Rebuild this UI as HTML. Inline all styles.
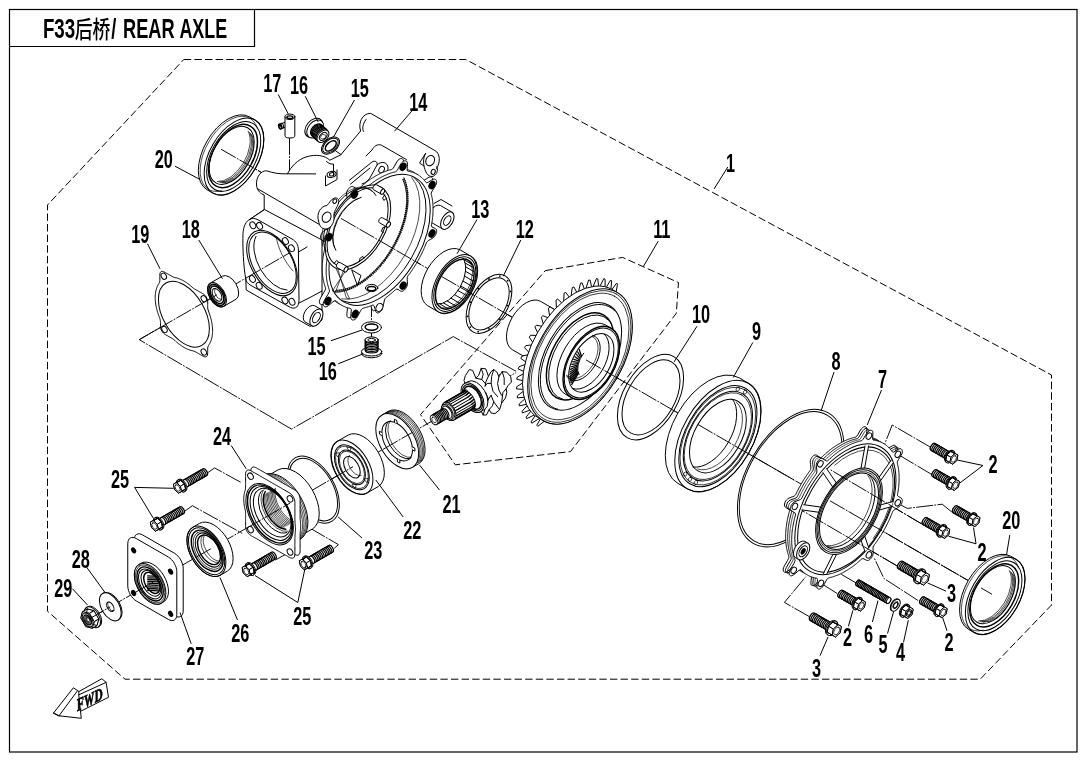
<!DOCTYPE html>
<html lang="zh">
<head>
<meta charset="utf-8">
<title>F33后桥/ REAR AXLE</title>
<style>
html,body{margin:0;padding:0;background:#fff;}
body{width:1090px;height:760px;overflow:hidden;font-family:"Liberation Sans","Noto Sans CJK SC",sans-serif;}
svg{display:block;position:absolute;left:0;top:0;filter:grayscale(1);}
.l{fill:none;stroke:#000;stroke-width:1.0;stroke-linecap:round;stroke-linejoin:round;}
.t{fill:none;stroke:#000;stroke-width:0.7;stroke-linecap:round;stroke-linejoin:round;}
.h{fill:none;stroke:#000;stroke-width:1.45;stroke-linecap:round;stroke-linejoin:round;}
.w{fill:#fff;stroke:#000;stroke-width:1.0;stroke-linecap:round;stroke-linejoin:round;}
.wt{fill:#fff;stroke:#000;stroke-width:0.8;stroke-linejoin:round;}
.k{fill:#000;stroke:none;}
.fw{font-family:"Liberation Serif",serif;font-weight:bold;font-style:italic;font-size:17px;fill:#000;stroke:#000;stroke-width:0.7;}
.wh{fill:#fff;stroke:#000;stroke-width:1.25;}
.f{fill:#fff;stroke:none;}
.t2{fill:none;stroke:#000;stroke-width:0.95;}
.wm{fill:#fff;stroke:#000;stroke-width:1.0;stroke-linejoin:miter;}
.ld{fill:none;stroke:#000;stroke-width:1;}
.th{fill:none;stroke:#000;stroke-width:1.3;}
.d{fill:none;stroke:#000;stroke-width:1;stroke-dasharray:7.4 3.2;}
.c{fill:none;stroke:#000;stroke-width:0.95;stroke-dasharray:17 1.3 1.8 1.3;}
.n{font-family:"Liberation Sans",sans-serif;font-weight:bold;font-size:25.1px;fill:#000;}
.ti{font-family:"Liberation Sans","Noto Sans CJK SC",sans-serif;font-weight:bold;fill:#000;}
</style>
</head>
<body>
<svg width="1090" height="760" viewBox="0 0 1090 760">
<rect class="l" x="9.5" y="9.5" width="1067.5" height="742.5" style="stroke-width:1.2;stroke-linejoin:miter"/>
<path class="l" d="M9.5 46.5H254.5V9.5" style="stroke-width:1.2;stroke-linejoin:miter"/>
<g>
<text class="ti" font-size="27.4" transform="translate(42.9 38.4) scale(0.685 1)">F33</text>
<text class="ti" font-size="23.6" style="font-weight:500" transform="translate(74.8 38.0) scale(0.755 1)">后桥</text>
<text class="ti" font-size="27.4" transform="translate(111.2 38.4) scale(0.66 1)">/</text>
<text class="ti" font-size="27.4" transform="translate(123.0 38.4) scale(0.665 1)">REAR</text>
<text class="ti" font-size="27.4" transform="translate(179.4 38.4) scale(0.655 1)">AXLE</text>
</g>
<path class="d" d="M183.8 59.5L465.8 59.5L1051.5 375L1051.5 605L980.2 679.2L125 679.2L47.5 611.2L47.5 205Z"/>
<path class="d" d="M545.3 270.6L622.6 257.4L678.5 282.6L676.3 313.3L570.5 451.6L455.3 464.8L420.5 414.6Z"/>
<g id="p_10_axes">
<path class="c" d="M221 149.2L992 594.3"/>
<path class="c" d="M89 619.1L516.1 372.5"/>
<path class="c" d="M516.1 371.3L453.3 336.6L291.5 429.1L139.3 339.7L246 278"/>
<path class="c" d="M931 447.5L892.2 425L884.8 443.8"/>
<path class="c" d="M932.1 474.7L897.8 454.3"/>
<path class="c" d="M951.7 511.9L942.2 504.2L907.3 508.4L899 504"/>
<path class="c" d="M921.5 523.8L820.4 463.8"/>
<path class="c" d="M897.3 566L794.9 506.4"/>
<path class="c" d="M918.2 600.6L883.9 578.4L874.2 558"/>
<path class="c" d="M837.2 593.5L820.9 583.3"/>
<path class="c" d="M809.3 616.6L784.4 602.4L805.8 576.7"/>
<path class="c" d="M856 582.9L808.4 555.3"/>
<path class="c" d="M207.5 472.9L214.6 467.9L241.3 482.6"/>
<path class="c" d="M184.9 511.1L192.4 505.7L242.1 533.3"/>
<path class="c" d="M275.3 560L290 552"/>
<path class="c" d="M334.2 548.4L338.4 544.6L294.2 519"/>
<path class="c" d="M289.5 137.9L289.5 188.5L333 164"/>
<path class="l" d="M335.6 150.8L340.8 154.5"/>
<path class="c" d="M371.5 300L371.5 338"/>
</g>
<g id="p_20_housing">
<path class="f" d="M360.6 131 C358 123 362 113.5 370.6 113.3 L435 150.6 C440.5 153.5 440.5 163 436.5 168.5 L431 175 L404 160 L381.5 145.2 C377 143.5 374 146.5 372 150 L340 190 L330 175 Z"/>
<path class="l" d="M340.8 154.8 L360.6 131 C358 123 362 113.5 370.6 113.3 L435 150.6 C440.5 153.5 440.5 163 436.5 168.5"/>
<path class="l" d="M406.5 159.6 L381.5 145.2 C377 143.5 374 146.5 372 150 L366 156"/>
<path class="l" d="M346 183 L372 162 C375 160 378 162 377 165 L371 176 C369 180 366 183 362 184 M350 184.5 L370 168 M377 165 C381 160.5 388 162 388 168 C388 172 385 176 381 178"/>
<ellipse class="l" cx="381.6" cy="169.6" rx="2.6" ry="3.4" transform="rotate(28 381.6 169.6)"/>
<path class="l" d="M366 119.5 C362.5 124 362 129.5 363.6 131.5"/>
<ellipse class="w" cx="430.2" cy="160.6" rx="4.2" ry="5.4" transform="rotate(25 430.2 160.6)"/>
<ellipse class="w" cx="433.2" cy="171.8" rx="2" ry="2.6" transform="rotate(20 433.2 171.8)"/>
<path class="l" d="M425.6 153.4 C422.6 158 423 166 426 172 C428 176.8 433 177.8 435.6 174.6 C438 171.4 437.6 168.6 436.8 166.6"/>
<path class="l" d="M425.6 153.4 L419.5 163 L424 166"/>
<path class="f" d="M266.6 170.8 C261 170.5 255.5 177 256.6 186 C257.5 191 261 194 264.2 195 L264.2 209.5 L330 246 L352 190 L341 154.6 L329.8 160.2 C325 155.5 316 153.8 306 157 C298 159.5 291 166.5 287.5 173.8 C280 174.2 273 173 266.6 170.8 Z"/>
<path class="l" d="M264.2 209.5 L264.2 195 C261 194 257.5 191 256.6 186 C255.5 177 261 170.5 266.6 170.8 C273 173 280 174.2 287.5 173.8 C291 166.5 298 159.5 306 157 C316 153.8 325 155.5 329.8 160.2 L340.8 154.8"/>
<path class="l" d="M287.5 173.8 L315.6 173.9"/>
<path class="l" d="M257.3 188.6 L322 226"/>
<path class="l" d="M264.2 209.5 L249.8 219.4"/>
<path class="l" d="M325.5 176 L325.5 186 L337 179.5 L337 170"/>
<ellipse class="w" cx="331.6" cy="174.4" rx="4.6" ry="2.9" transform="rotate(-12 331.6 174.4)"/>
<ellipse class="l" cx="331.8" cy="174.3" rx="2.4" ry="1.6" transform="rotate(-12 331.8 174.3)"/>
<path class="l" d="M326.5 161.5 C328.5 163.5 331.5 164.5 333.5 164 L333.5 176"/>
<path class="w" d="M249.8 219.4 L264.6 209.6 L322 240 L322 320 L310 326.4 L246.2 290 L245.8 279 C243.5 268 242.5 245 243 233.5 C243.5 226 246 221 249.8 219.4 Z"/>
<path class="l" d="M249.8 219.4 C252 217.8 255 218.2 258 219.8 L292 239 C296 241.2 298.4 245 298.4 250 L299 300 C299 306.5 296 309.5 290.5 307.5 L251 285.5 C247.5 283.5 246 281.5 245.8 279"/>
<path class="l" d="M299 303 L310 297.5 L322 291"/>
<path class="l" d="M298.5 252 L307 247"/>
<ellipse class="l" cx="272" cy="263" rx="35.8" ry="20.7" transform="rotate(-120 272 263)"/>
<ellipse class="l" cx="272.5" cy="262.7" rx="33.6" ry="19.4" transform="rotate(-120 272.5 262.7)"/>
<path class="l" d="M287.1 290.1A33 19.1 -120 0 1 256 236.4"/>
<path class="t" d="M276 236.5 C278 248 284 261 293 271"/>
<ellipse class="w" cx="252.8" cy="225.3" rx="3.6" ry="2.7" transform="rotate(60 252.8 225.3)"/>
<ellipse class="w" cx="259.6" cy="225.9" rx="3.6" ry="2.7" transform="rotate(60 259.6 225.9)"/>
<ellipse class="w" cx="285.4" cy="241" rx="3.6" ry="2.7" transform="rotate(60 285.4 241)"/>
<ellipse class="w" cx="291.4" cy="248.2" rx="3.6" ry="2.7" transform="rotate(60 291.4 248.2)"/>
<ellipse class="w" cx="252.4" cy="279" rx="3.6" ry="2.7" transform="rotate(60 252.4 279)"/>
<ellipse class="w" cx="259.2" cy="285.8" rx="3.6" ry="2.7" transform="rotate(60 259.2 285.8)"/>
<ellipse class="w" cx="284.9" cy="300.4" rx="3.6" ry="2.7" transform="rotate(60 284.9 300.4)"/>
<ellipse class="w" cx="292" cy="301.8" rx="3.6" ry="2.7" transform="rotate(60 292 301.8)"/>
<path class="w" d="M440 205.3A9.6 5.5 -60 0 0 430.4 221.9L442.5 228.9A9.6 5.5 -60 0 0 452.1 212.3Z"/>
<ellipse class="w" cx="447.3" cy="220.6" rx="9.6" ry="5.5" transform="rotate(-60 447.3 220.6)"/>
<ellipse class="l" cx="447.3" cy="220.6" rx="5.2" ry="3" transform="rotate(-60 447.3 220.6)"/>
<path class="l" d="M434 203.5 L441 199.5 L452 206"/>
<path class="w" d="M314.2 305.5A9.4 5.4 -60 0 0 304.8 321.7L311.7 325.7A9.4 5.4 -60 0 0 321.1 309.5Z"/>
<ellipse class="w" cx="316.4" cy="317.6" rx="9.4" ry="5.4" transform="rotate(-60 316.4 317.6)"/>
<ellipse class="l" cx="316.4" cy="317.6" rx="5.6" ry="3.2" transform="rotate(-60 316.4 317.6)"/>
<path class="w" d="M413.5 172.2L414 172.5L414.5 172.8L415 173.1L415.4 173.4L415.9 173.8L416.3 174.1L416.8 174.5L417.2 174.8L417.7 175.2L418.1 175.6L418.5 176L418.9 176.4L419.4 176.8L419.8 177.3L420.1 177.7L420.5 178.2L420.9 178.6L421.3 179.1L421.6 179.6L422 180.1L422.5 180.4L423.2 180.5L424.5 179.9L426.2 178.9L427.9 177.8L429.4 177.1L430.5 176.9L431.3 177L431.9 177.4L432.3 177.9L432.6 178.6L432.7 179.4L432.7 180.4L432.4 181.7L431.6 183.4L430.3 185.6L428.8 187.9L427.7 189.8L427.3 191L427.4 191.9L427.5 192.6L427.7 193.2L427.8 193.9L428 194.6L428.1 195.3L428.3 196.1L428.4 196.8L428.5 197.5L428.6 198.3L428.7 199L428.8 199.8L428.9 200.5L428.9 201.3L429 202L429 202.8L429.1 203.6L429.1 204.4L429.1 205.2L429.1 206L429.2 206.8L429.1 207.6L429.1 208.4L429.1 209.2L429.1 210.1L429 210.9L429 211.7L428.9 212.6L428.9 213.4L428.8 214.3L428.7 215.1L428.6 216L428.5 216.8L428.4 217.7L428.3 218.6L428.1 219.4L428 220.3L427.8 221.2L427.7 222.1L427.5 222.9L427.5 223.8L427.9 224.5L428.9 225.2L430.3 225.8L431.6 226.4L432.4 227.2L432.7 228.1L432.7 229L432.6 230L432.4 231L432 232.1L431.4 233.1L430.7 234.2L429.7 235.2L428.3 236.2L426.5 237.2L424.8 238.1L423.6 239.1L422.8 240L422.4 240.9L422 241.8L421.6 242.7L421.3 243.6L420.9 244.5L420.5 245.4L420.1 246.3L419.8 247.2L419.4 248.1L418.9 249L418.5 249.9L418.1 250.7L417.7 251.6L417.2 252.5L416.8 253.4L416.3 254.3L415.9 255.1L415.4 256L415 256.9L414.5 257.8L414 258.6L413.5 259.5L413 260.3L412.5 261.2L412 262L411.5 262.9L410.9 263.7L410.4 264.5L409.9 265.4L409.3 266.2L408.8 267L408.2 267.8L407.7 268.6L407.1 269.4L406.6 270.2L406 271L405.4 271.8L404.8 272.6L404.2 273.4L403.7 274.3L403.4 275.4L403.3 277L403.4 278.9L403.6 280.9L403.4 282.6L403.1 283.9L402.6 285.1L402 286.1L401.3 287L400.6 287.7L399.8 288.4L398.9 288.9L397.9 289.1L396.8 288.8L395.5 288.1L394.3 287.3L393.2 286.8L392.3 287L391.6 287.5L390.9 288.1L390.2 288.7L389.5 289.3L388.9 289.9L388.2 290.5L387.5 291L386.8 291.6L386.1 292.2L385.4 292.7L384.8 293.3L384.1 293.8L383.4 294.3L382.7 294.8L382 295.3L381.3 296.1L380.7 297.4L380.1 299.7L379.5 302.7L378.8 305.4L378.1 307.4L377.3 308.6L376.5 309.5L375.7 310.1L374.9 310.5L374.1 310.7L373.3 310.7L372.5 310.2L371.8 308.9L371.2 306.9L370.6 304.8L370.1 303.3L369.4 302.8L368.7 302.9L368 303.2L367.3 303.4L366.7 303.7L366 304L365.3 304.2L364.6 304.4L363.9 304.7L363.2 304.9L362.5 305.1L361.9 305.3L361.2 305.4L360.5 305.6L359.9 305.7L359.2 305.9L358.4 306.3L357.5 307.3L356.3 309.3L354.9 311.9L353.6 314.4L352.4 316L351.4 317L350.5 317.5L349.7 317.7L349 317.8L348.3 317.6L347.7 317.3L347.2 316.7L346.9 315.5L346.9 313.8L347.1 311.4L347.4 309L347.4 307.3L347.1 306.5L346.6 306.2L346 306.1L345.4 306L344.9 305.9L344.3 305.7L343.7 305.6L343.2 305.4L342.6 305.2L342.1 305L341.5 304.8L341 304.6L340.5 304.4L339.9 304.2L339.4 303.9L338.9 303.7L338.4 303.4L337.9 303.1L337.4 302.8L336.9 302.5L336.5 302.2L336 301.9L335.5 301.5L335.1 301.2L334.6 300.8L334.2 300.5L333.7 300.1L333.3 299.7L332.9 299.3L332.5 298.9L332 298.5L331.5 298.3L330.5 298.6L328.9 299.8L326.7 301.6L324.6 303.3L323 304.3L321.8 304.7L321 304.6L320.4 304.2L319.9 303.7L319.6 303.1L319.4 302.2L319.4 301.2L319.8 299.8L320.7 297.8L322.2 295.1L323.9 292.3L325.1 290.2L325.6 288.8L325.5 288L325.3 287.3L325.1 286.7L324.9 286.1L324.7 285.4L324.5 284.8L324.3 284.1L324.1 283.4L323.9 282.7L323.7 282.1L323.6 281.4L323.4 280.7L323.3 280L323.1 279.2L323 278.5L322.9 277.8L322.8 277L322.7 276.3L322.6 275.5L322.5 274.8L322.5 274L322.4 273.3L322.4 272.5L322.3 271.7L322.3 270.9L322.3 270.1L322.3 269.3L322.3 268.5L322.3 267.7L322.3 266.9L322.3 266.1L322.3 265.2L322.4 264.4L322.4 263.6L322.5 262.7L322.5 261.9L322.6 261L322.7 260.2L322.8 259.3L322.9 258.5L323 257.6L323.1 256.7L323.3 255.9L323.4 255L323.6 254.1L323.7 253.2L323.9 252.4L324.1 251.5L324.3 250.6L324.5 249.7L324.7 248.8L324.9 247.9L325.1 247L325.3 246.1L325.6 245.2L325.8 244.3L325.9 243.4L325.6 242.6L324.7 241.7L323.4 240.9L322 240L321.1 239.1L320.7 238.1L320.6 237L320.7 236L321 234.9L321.4 233.9L322 232.9L322.7 231.9L323.7 230.9L325.1 230.1L327.1 229.3L329.2 228.7L330.9 228L331.9 227.2L332.4 226.3L332.9 225.4L333.3 224.6L333.7 223.7L334.2 222.8L334.6 221.9L335.1 221L335.5 220.2L336 219.3L336.5 218.4L336.9 217.5L337.4 216.7L337.9 215.8L338.4 215L338.9 214.1L339.4 213.3L339.9 212.4L340.5 211.6L341 210.8L341.5 209.9L342.1 209.1L342.6 208.3L343.2 207.5L343.7 206.7L344.3 205.9L344.9 205.1L345.4 204.3L346 203.5L346.6 202.7L347.1 201.8L347.3 200.5L347.2 198.6L346.8 196.4L346.5 194.3L346.6 192.5L347 191.2L347.6 190.1L348.2 189.1L348.9 188.3L349.7 187.6L350.6 187L351.5 186.6L352.5 186.5L353.8 187L355.1 187.9L356.5 188.7L357.6 189.1L358.5 189L359.2 188.5L359.9 187.9L360.5 187.2L361.2 186.6L361.9 186L362.5 185.4L363.2 184.8L363.9 184.3L364.6 183.7L365.3 183.1L366 182.6L366.6 182L367.3 181.5L368 181L368.7 180.5L369.4 180L370.1 179.5L370.8 179L371.5 178.5L372.2 178.1L372.9 177.6L373.6 177.2L374.3 176.8L375 176.3L375.7 175.9L376.4 175.5L377.1 175.1L377.8 174.8L378.5 174.4L379.2 174L379.9 173.7L380.6 173.4L381.3 173L382 172.7L382.7 172.4L383.4 172.1L384.1 171.9L384.8 171.6L385.4 171.3L386.1 171.1L386.8 170.9L387.5 170.6L388.2 170.4L388.9 170.2L389.5 170L390.2 169.9L390.9 169.7L391.6 169.5L392.3 169.2L393.2 168.2L394.3 166.4L395.6 164L396.9 161.8L398 160.2L399 159.4L399.8 158.9L400.6 158.6L401.4 158.5L402 158.6L402.6 159L403.1 159.6L403.5 160.6L403.6 162.2L403.4 164.4L403.3 166.5L403.3 168L403.7 168.7L404.2 169L404.8 169.1L405.4 169.2L406 169.3L406.5 169.4L407.1 169.6L407.7 169.7L408.2 169.9L408.8 170.1L409.3 170.3L409.9 170.5L410.4 170.7L410.9 170.9L411.5 171.1L412 171.4L412.5 171.6L413 171.9Z"/>
<path class="w" d="M417.4 174.4L417.9 174.7L418.4 175L418.8 175.3L419.3 175.7L419.8 176L420.2 176.4L420.7 176.7L421.1 177.1L421.6 177.5L422 177.8L422.4 178.2L422.8 178.7L423.2 179.1L423.6 179.5L424 180L424.4 180.4L424.8 180.9L425.2 181.3L425.5 181.8L425.9 182.3L426.4 182.7L427.1 182.7L428.3 182.2L430.1 181.1L431.8 180L433.3 179.3L434.4 179.1L435.2 179.3L435.7 179.6L436.2 180.2L436.5 180.9L436.6 181.7L436.6 182.7L436.3 183.9L435.5 185.7L434.2 187.9L432.7 190.2L431.6 192L431.2 193.3L431.2 194.1L431.4 194.8L431.6 195.5L431.7 196.2L431.9 196.9L432 197.6L432.2 198.3L432.3 199L432.4 199.8L432.5 200.5L432.6 201.3L432.7 202L432.8 202.8L432.8 203.5L432.9 204.3L432.9 205.1L433 205.9L433 206.6L433 207.4L433 208.2L433.1 209L433 209.9L433 210.7L433 211.5L433 212.3L432.9 213.1L432.9 214L432.8 214.8L432.8 215.7L432.7 216.5L432.6 217.4L432.5 218.2L432.4 219.1L432.3 219.9L432.2 220.8L432 221.7L431.9 222.5L431.7 223.4L431.6 224.3L431.4 225.2L431.4 226L431.8 226.8L432.8 227.4L434.2 228L435.5 228.7L436.3 229.4L436.6 230.3L436.6 231.3L436.5 232.3L436.2 233.3L435.8 234.3L435.3 235.4L434.6 236.4L433.6 237.4L432.2 238.5L430.4 239.4L428.7 240.4L427.5 241.3L426.7 242.2L426.3 243.1L425.9 244L425.5 244.9L425.2 245.8L424.8 246.7L424.4 247.6L424 248.5L423.7 249.4L423.3 250.3L422.8 251.2L422.4 252.1L422 253L421.6 253.9L421.1 254.8L420.7 255.6L420.2 256.5L419.8 257.4L419.3 258.3L418.9 259.1L418.4 260L417.9 260.9L417.4 261.7L416.9 262.6L416.4 263.4L415.9 264.3L415.4 265.1L414.8 266L414.3 266.8L413.8 267.6L413.2 268.4L412.7 269.3L412.1 270.1L411.6 270.9L411 271.7L410.5 272.5L409.9 273.3L409.3 274.1L408.7 274.9L408.1 275.6L407.6 276.5L407.3 277.7L407.2 279.2L407.3 281.2L407.5 283.1L407.3 284.8L407 286.2L406.5 287.3L405.9 288.3L405.2 289.2L404.4 290L403.6 290.6L402.8 291.1L401.8 291.3L400.7 291.1L399.4 290.4L398.2 289.5L397.1 289.1L396.2 289.2L395.5 289.7L394.8 290.3L394.1 290.9L393.4 291.5L392.8 292.1L392.1 292.7L391.4 293.3L390.7 293.9L390 294.4L389.3 295L388.7 295.5L388 296L387.3 296.6L386.6 297.1L385.9 297.6L385.2 298.3L384.6 299.7L384 302L383.4 304.9L382.7 307.7L382 309.6L381.2 310.9L380.4 311.7L379.6 312.3L378.8 312.7L378 313L377.2 312.9L376.4 312.4L375.7 311.2L375.1 309.2L374.5 307L373.9 305.6L373.3 305.1L372.6 305.1L371.9 305.4L371.2 305.7L370.6 306L369.9 306.2L369.2 306.5L368.5 306.7L367.8 306.9L367.1 307.1L366.4 307.3L365.8 307.5L365.1 307.7L364.4 307.8L363.8 308L363.1 308.2L362.3 308.5L361.4 309.5L360.2 311.5L358.8 314.2L357.5 316.6L356.3 318.3L355.3 319.2L354.4 319.7L353.6 320L352.9 320L352.2 319.9L351.6 319.5L351.1 318.9L350.8 317.8L350.8 316L351 313.6L351.3 311.3L351.3 309.6L351 308.8L350.5 308.5L349.9 308.4L349.3 308.2L348.8 308.1L348.2 308L347.6 307.8L347.1 307.6L346.5 307.5L346 307.3L345.4 307.1L344.9 306.9L344.4 306.6L343.8 306.4L343.3 306.2L342.8 305.9L342.3 305.6L341.8 305.4L341.3 305.1L340.8 304.8L340.4 304.5L339.9 304.1L339.4 303.8L339 303.4L338.5 303.1L338.1 302.7L337.6 302.3L337.2 302L336.8 301.6L336.4 301.1L335.9 300.7L335.4 300.5L334.4 300.8L332.8 302L330.6 303.8L328.5 305.5L326.9 306.6L325.7 306.9L324.9 306.8L324.3 306.5L323.8 306L323.5 305.3L323.3 304.5L323.3 303.4L323.7 302L324.6 300L326.1 297.4L327.8 294.6L329 292.4L329.5 291.1L329.4 290.2L329.2 289.6L329 289L328.8 288.3L328.6 287.7L328.4 287L328.2 286.4L328 285.7L327.8 285L327.6 284.3L327.5 283.6L327.3 282.9L327.2 282.2L327 281.5L326.9 280.8L326.8 280L326.7 279.3L326.6 278.5L326.5 277.8L326.4 277L326.4 276.3L326.3 275.5L326.3 274.7L326.2 273.9L326.2 273.2L326.2 272.4L326.2 271.6L326.1 270.8L326.2 269.9L326.2 269.1L326.2 268.3L326.2 267.5L326.3 266.7L326.3 265.8L326.4 265L326.4 264.1L326.5 263.3L326.6 262.4L326.7 261.6L326.8 260.7L326.9 259.9L327 259L327.2 258.1L327.3 257.3L327.5 256.4L327.6 255.5L327.8 254.6L328 253.7L328.2 252.8L328.4 252L328.6 251.1L328.8 250.2L329 249.3L329.2 248.4L329.5 247.5L329.7 246.6L329.8 245.7L329.5 244.8L328.6 244L327.3 243.1L325.9 242.3L325 241.3L324.6 240.3L324.5 239.3L324.6 238.2L324.9 237.2L325.3 236.1L325.9 235.1L326.6 234.1L327.6 233.2L329 232.3L331 231.6L333.1 230.9L334.8 230.2L335.8 229.4L336.3 228.6L336.8 227.7L337.2 226.8L337.6 225.9L338.1 225L338.5 224.2L339 223.3L339.4 222.4L339.9 221.5L340.3 220.7L340.8 219.8L341.3 218.9L341.8 218.1L342.3 217.2L342.8 216.4L343.3 215.5L343.8 214.7L344.4 213.8L344.9 213L345.4 212.2L346 211.4L346.5 210.5L347.1 209.7L347.6 208.9L348.2 208.1L348.7 207.3L349.3 206.5L349.9 205.7L350.5 204.9L351 204L351.2 202.7L351.1 200.9L350.7 198.7L350.4 196.5L350.5 194.8L350.9 193.5L351.5 192.4L352.1 191.4L352.8 190.5L353.6 189.8L354.5 189.2L355.4 188.8L356.4 188.8L357.7 189.2L359 190.1L360.4 191L361.5 191.4L362.4 191.2L363.1 190.7L363.7 190.1L364.4 189.5L365.1 188.9L365.8 188.3L366.4 187.7L367.1 187.1L367.8 186.5L368.5 185.9L369.2 185.4L369.9 184.8L370.5 184.3L371.2 183.8L371.9 183.2L372.6 182.7L373.3 182.2L374 181.7L374.7 181.3L375.4 180.8L376.1 180.3L376.8 179.9L377.5 179.4L378.2 179L378.9 178.6L379.6 178.2L380.3 177.8L381 177.4L381.7 177L382.4 176.7L383.1 176.3L383.8 176L384.5 175.6L385.2 175.3L385.9 175L386.6 174.7L387.3 174.4L388 174.1L388.6 173.8L389.3 173.6L390 173.3L390.7 173.1L391.4 172.9L392.1 172.7L392.8 172.5L393.4 172.3L394.1 172.1L394.8 172L395.5 171.8L396.2 171.4L397.1 170.5L398.2 168.7L399.5 166.3L400.8 164L401.9 162.5L402.9 161.6L403.7 161.1L404.5 160.8L405.3 160.8L405.9 160.9L406.5 161.2L407 161.8L407.4 162.8L407.5 164.5L407.3 166.6L407.2 168.7L407.2 170.2L407.6 171L408.1 171.2L408.7 171.3L409.3 171.4L409.9 171.6L410.4 171.7L411 171.8L411.6 172L412.1 172.2L412.7 172.3L413.2 172.5L413.8 172.7L414.3 172.9L414.8 173.2L415.4 173.4L415.9 173.6L416.4 173.9L416.9 174.2Z"/>
<ellipse class="l" cx="379.6" cy="239.9" rx="71.6" ry="41.3" transform="rotate(-60 379.6 239.9)"/>
<path class="l" d="M414.1 177.4A71.6 41.3 -60 0 1 342.7 301"/>
<path class="t" d="M411.7 177.5A71.6 41.3 -60 0 1 341.6 298.9"/>
<path class="h" style="stroke-dasharray:1.1 0.9;stroke-width:2.6;stroke-linecap:butt" d="M403.5 178.8A70 40.4 -60 0 1 335.5 291.3"/>
<path class="t" d="M403.9 177.5A71.4 41.2 -60 0 1 334.5 292.3"/>
<path class="t" d="M403.1 180A68.6 39.6 -60 0 1 336.4 290.3"/>
<path class="t" d="M346.6 269.2L332.4 291L335.6 291.8L343.9 269.4"/>
<path class="t" d="M337.7 268.5L346.4 298L349.6 298.8L335.6 267.6"/>
<path class="t" d="M348.2 197.2L348.4 197L351.6 197.8L350.9 194.8"/>
<path class="t" d="M367.7 185.9L374.4 190L377.6 190.8L370.4 185.5"/>
<ellipse class="w" cx="357.9" cy="227.4" rx="46.4" ry="26.8" transform="rotate(-60 357.9 227.4)"/>
<ellipse class="l" cx="357.6" cy="227.2" rx="43.2" ry="24.9" transform="rotate(-60 357.6 227.2)"/>
<path class="l" d="M326 251.3A39 22.5 -60 0 1 376 195.5"/>
<path class="t" d="M322.7 246A39 22.5 -60 0 1 371.9 191.1"/>
<path class="l" d="M384.7 194.9L382.6 198L383.8 200.4L386.5 198.3"/>
<path class="l" d="M385.4 227L382.8 227.7L381.4 231.4L383.3 232.5"/>
<path class="l" d="M363.8 258.7L362.8 256.4L359.9 258.4L359.5 261.7"/>
<path class="l" d="M337.1 265.2L338.5 261.8L336.6 260.5L334.2 263.3"/>
<path class="w" d="M376.3 184.6A2.9 1.7 -60 0 0 373.4 189.6L381.2 194.1A2.9 1.7 -60 0 0 384.1 189.1Z"/>
<ellipse class="w" cx="382.6" cy="191.6" rx="2.9" ry="1.7" transform="rotate(-60 382.6 191.6)"/>
<path class="w" d="M382.1 217.6A2.9 1.7 -60 0 0 379.2 222.6L386.9 227.1A2.9 1.7 -60 0 0 389.8 222.1Z"/>
<ellipse class="w" cx="388.4" cy="224.6" rx="2.9" ry="1.7" transform="rotate(-60 388.4 224.6)"/>
<path class="w" d="M339.7 262.4A2.9 1.7 -60 0 0 336.8 267.4L344.6 271.9A2.9 1.7 -60 0 0 347.4 266.9Z"/>
<ellipse class="w" cx="346" cy="269.4" rx="2.9" ry="1.7" transform="rotate(-60 346 269.4)"/>
<path class="l" d="M352 270 L361 275.5 L357.5 285 Z"/>
<path class="l" d="M335.8 250.3A32 18.5 -60 0 1 361.2 197.3"/>
<path class="t" d="M334.5 247A30.5 17.6 -60 0 1 357.8 198.5"/>
<ellipse class="w" cx="371.6" cy="288" rx="6.2" ry="3.6"/>
<ellipse class="h" cx="371.6" cy="288.6" rx="4.2" ry="2.2"/>
<ellipse class="k" cx="403.1" cy="166.8" rx="3.3" ry="4.5" transform="rotate(28 403.1 166.8)"/>
<ellipse class="k" cx="432" cy="185" rx="3.3" ry="4.5" transform="rotate(28 432 185)"/>
<ellipse class="k" cx="432" cy="233.5" rx="3.3" ry="4.5" transform="rotate(28 432 233.5)"/>
<ellipse class="k" cx="403.1" cy="285.6" rx="3.3" ry="4.5" transform="rotate(28 403.1 285.6)"/>
<ellipse class="k" cx="355.1" cy="314" rx="3.3" ry="4.5" transform="rotate(28 355.1 314)"/>
<ellipse class="k" cx="327.9" cy="301" rx="3.3" ry="4.5" transform="rotate(28 327.9 301)"/>
<ellipse class="k" cx="329.1" cy="237.1" rx="3.3" ry="4.5" transform="rotate(28 329.1 237.1)"/>
<ellipse class="k" cx="354.6" cy="194.5" rx="3.3" ry="4.5" transform="rotate(28 354.6 194.5)"/>
<ellipse class="w" cx="379.4" cy="307.4" rx="3.2" ry="4.2" transform="rotate(28 379.4 307.4)"/>
<path class="w" d="M318.5 221 C316 213 321 206 327 205.5 C329.5 203 331 199 334.5 198 C338 197.5 339.5 200 338.5 203 C337.5 207.5 333 211.5 334 217 C334.5 223.5 330 229 325.5 229 C321.5 229 319.5 226 318.5 221 Z"/>
<ellipse class="l" cx="326.6" cy="217.2" rx="4.2" ry="5.4" transform="rotate(28 326.6 217.2)"/>
<ellipse class="l" cx="334.8" cy="201.2" rx="1.8" ry="2.3" transform="rotate(28 334.8 201.2)"/>
</g>
<g id="p_25_small">
<path class="w" d="M160.1 273L160.5 272.2L161 271.6L161.7 271.4L162.5 271.4L163.5 271.7L164.5 272.1L165.5 272.7L166.5 273.2L167.5 273.8L168.4 274.3L169.3 274.8L170.2 275.3L171.1 275.8L171.9 276.3L172.8 276.7L173.5 277.1L174.3 277.4L175 277.6L175.8 277.7L176.5 277.9L177.2 278.1L177.9 278.3L178.7 278.6L179.4 278.9L180.2 279.2L180.9 279.5L181.6 279.9L182.4 280.2L183.2 280.6L183.9 281.1L184.7 281.5L185.4 282L186.2 282.5L186.9 283L187.6 283.5L188.4 284.1L189.1 284.6L189.9 285.2L190.6 285.8L191.3 286.5L192.1 287.1L192.8 287.8L193.5 288.3L194.3 288.9L195.2 289.3L196 289.8L196.9 290.3L197.8 290.8L198.7 291.3L199.6 291.9L200.6 292.4L201.6 293L202.6 293.6L203.7 294.2L204.6 295L205.5 295.9L206.2 296.9L206.8 298L207.3 299.2L207.5 300.5L207.7 301.8L207.7 303.1L207.7 304.4L207.7 305.6L207.7 306.8L207.7 307.9L207.9 309L208.1 310L208.4 311L208.8 312L209.1 312.9L209.5 313.9L209.8 314.9L210.1 315.9L210.4 316.8L210.7 317.8L210.9 318.8L211.2 319.7L211.4 320.7L211.6 321.6L211.8 322.6L212 323.5L212.1 324.5L212.2 325.4L212.3 326.3L212.4 327.2L212.5 328.1L212.6 329L212.6 329.9L212.6 330.8L212.6 331.6L212.6 332.5L212.5 333.3L212.4 334.1L212.3 334.9L212.2 335.7L212.1 336.5L212 337.3L211.8 338L211.6 338.8L211.4 339.5L211.2 340.2L210.9 340.9L210.7 341.5L210.4 342.2L210.1 342.8L209.8 343.4L209.5 344L209.1 344.6L208.8 345.1L208.4 345.7L208.1 346.3L207.9 347.1L207.7 348L207.7 349.1L207.7 350.2L207.7 351.5L207.7 352.7L207.6 353.9L207.5 355L207.1 355.9L206.6 356.5L206 356.8L205.2 356.9L204.3 356.7L203.3 356.3L202.3 355.7L201.3 355.2L200.3 354.6L199.4 354.1L198.5 353.5L197.6 353L196.7 352.5L195.8 352L195 351.6L194.2 351.3L193.5 351L192.8 350.8L192 350.7L191.3 350.5L190.6 350.3L189.9 350.1L189.1 349.8L188.4 349.5L187.6 349.2L186.9 348.9L186.2 348.5L185.4 348.2L184.6 347.8L183.9 347.3L183.1 346.9L182.4 346.4L181.6 345.9L180.9 345.4L180.2 344.9L179.4 344.3L178.7 343.8L177.9 343.2L177.2 342.6L176.5 341.9L175.7 341.3L175 340.6L174.3 340L173.5 339.4L172.7 338.8L171.9 338.3L171.1 337.8L170.2 337.3L169.3 336.8L168.3 336.3L167.4 335.7L166.4 335.2L165.4 334.6L164.4 333.9L163.5 333.1L162.6 332.2L161.9 331.2L161.3 330.1L160.9 328.9L160.7 327.6L160.6 326.3L160.5 325.1L160.5 323.8L160.5 322.6L160.4 321.5L160.3 320.4L160.1 319.4L159.8 318.4L159.4 317.4L159 316.4L158.7 315.5L158.3 314.5L158 313.5L157.7 312.5L157.4 311.6L157.1 310.6L156.9 309.6L156.6 308.7L156.4 307.7L156.2 306.8L156 305.8L155.8 304.9L155.7 303.9L155.6 303L155.5 302.1L155.4 301.2L155.3 300.3L155.2 299.4L155.2 298.5L155.2 297.6L155.2 296.8L155.2 295.9L155.3 295.1L155.4 294.3L155.5 293.5L155.6 292.7L155.7 291.9L155.8 291.1L156 290.4L156.2 289.6L156.4 288.9L156.6 288.2L156.9 287.5L157.1 286.9L157.4 286.2L157.7 285.6L158 285L158.3 284.4L158.7 283.8L159 283.3L159.4 282.7L159.7 282L159.8 281.2L159.9 280.1L159.9 279L159.8 277.8L159.8 276.5L159.8 275.2L159.9 274Z"/>
<ellipse class="l" cx="183.9" cy="314.2" rx="36" ry="20.8" transform="rotate(-120 183.9 314.2)"/>
<ellipse class="l" cx="163.8" cy="276.2" rx="3.3" ry="2.5" transform="rotate(60 163.8 276.2)"/>
<ellipse class="l" cx="203.8" cy="298.8" rx="3.3" ry="2.5" transform="rotate(60 203.8 298.8)"/>
<ellipse class="l" cx="203.8" cy="352" rx="3.3" ry="2.5" transform="rotate(60 203.8 352)"/>
<ellipse class="l" cx="164.5" cy="329.5" rx="3.3" ry="2.5" transform="rotate(60 164.5 329.5)"/>
<path class="w" d="M222.7 276A13.4 7.7 -120 0 1 236.1 299.2L223.7 306.4A13.4 7.7 -120 0 1 210.3 283.1Z"/>
<ellipse class="l" cx="217" cy="294.8" rx="13.4" ry="7.7" transform="rotate(-120 217 294.8)"/>
<ellipse class="h" cx="217" cy="294.8" rx="11.6" ry="6.7" transform="rotate(-120 217 294.8)"/>
<ellipse class="h" cx="217" cy="294.8" rx="9.6" ry="5.5" transform="rotate(-120 217 294.8)"/>
<ellipse class="l" cx="217" cy="294.8" rx="7" ry="4" transform="rotate(-120 217 294.8)"/>
<path class="t" d="M221.1 299.5A6.6 3.8 -120 0 1 214.9 288.8"/>
<path class="w" d="M459.6 249.6A32.3 18.7 -60 0 0 427.3 305.5L438.6 312.1A32.3 18.7 -60 0 0 470.9 256.2Z"/>
<ellipse class="l" cx="454.8" cy="284.1" rx="32.3" ry="18.7" transform="rotate(-60 454.8 284.1)"/>
<ellipse class="l" cx="454.8" cy="284.1" rx="29.8" ry="17.2" transform="rotate(-60 454.8 284.1)"/>
<ellipse class="h" cx="454.8" cy="284.1" rx="27.4" ry="15.8" transform="rotate(-60 454.8 284.1)"/>
<path class="l" d="M471.8 264.3L463.6 259.5"/>
<path class="l" d="M473.2 267.6L464.9 262.9"/>
<path class="l" d="M473.8 271.6L465.6 266.8"/>
<path class="l" d="M473.7 276.1L465.5 271.3"/>
<path class="l" d="M472.8 280.9L464.6 276.1"/>
<path class="l" d="M471.2 285.8L463 281.1"/>
<path class="l" d="M469 290.7L460.7 285.9"/>
<path class="l" d="M466.1 295.3L457.9 290.5"/>
<path class="l" d="M462.8 299.4L454.6 294.7"/>
<path class="l" d="M459.2 303L451 298.2"/>
<path class="l" d="M455.4 305.8L447.2 301"/>
<path class="l" d="M451.6 307.7L443.4 302.9"/>
<path class="l" d="M447.9 308.7L439.7 303.9"/>
<path class="l" d="M463 258.4A27.2 15.7 -60 0 1 436.6 304.1"/>
<path class="t" d="M469.1 261.5A27.2 15.7 -60 0 1 442.4 307.9"/>
<ellipse class="w" cx="489" cy="303.9" rx="32.3" ry="18.7" transform="rotate(-60 489 303.9)"/>
<ellipse class="l" cx="489" cy="303.9" rx="28.6" ry="16.5" transform="rotate(-60 489 303.9)"/>
<circle class="k" cx="507.7" cy="280.7" r="0.9"/>
<circle class="k" cx="510.6" cy="291.4" r="0.9"/>
<circle class="k" cx="507.7" cy="305.6" r="0.9"/>
<circle class="k" cx="499.8" cy="319.2" r="0.9"/>
<circle class="k" cx="489" cy="328.8" r="0.9"/>
<circle class="k" cx="478.2" cy="331.7" r="0.9"/>
<circle class="k" cx="470.3" cy="327.1" r="0.9"/>
<circle class="k" cx="467.4" cy="316.3" r="0.9"/>
<circle class="k" cx="470.3" cy="302.2" r="0.9"/>
<circle class="k" cx="478.2" cy="288.5" r="0.9"/>
<circle class="k" cx="489" cy="279" r="0.9"/>
<circle class="k" cx="499.8" cy="276.1" r="0.9"/>
<path class="w" d="M288.4 121 L280.6 123.9 C279 124.5 278.6 128.4 280.4 129 L288.4 126.2 Z"/>
<ellipse class="h" cx="280.2" cy="126.5" rx="1.5" ry="2.6" transform="rotate(-15 280.2 126.5)"/>
<ellipse class="l" cx="282" cy="125.8" rx="1.5" ry="2.6" transform="rotate(-15 282 125.8)"/>
<path class="w" d="M285 116.8 L285 135.8 A4.9 2.2 0 0 0 294.8 135.8 L294.8 116.8 Z"/>
<ellipse class="w" cx="289.9" cy="116.8" rx="4.9" ry="2.7"/>
<ellipse class="h" cx="289.9" cy="117.2" rx="3" ry="1.3"/>
<ellipse class="w" cx="313.8" cy="127.8" rx="10.8" ry="7.4" transform="rotate(-50 313.8 127.8)"/>
<ellipse class="w" cx="315.2" cy="129" rx="10.2" ry="7" transform="rotate(-50 315.2 129)"/>
<ellipse class="wh" cx="316.6" cy="130.2" rx="7.3" ry="4.9" transform="rotate(-48 316.6 130.2)"/>
<ellipse class="wh" cx="317.5" cy="131" rx="7.3" ry="4.9" transform="rotate(-48 317.5 131)"/>
<ellipse class="wh" cx="318.4" cy="131.9" rx="7.3" ry="4.9" transform="rotate(-48 318.4 131.9)"/>
<ellipse class="wh" cx="319.3" cy="132.8" rx="7.3" ry="4.9" transform="rotate(-48 319.3 132.8)"/>
<ellipse class="wh" cx="320.2" cy="133.6" rx="7.3" ry="4.9" transform="rotate(-48 320.2 133.6)"/>
<ellipse class="wh" cx="321.2" cy="134.4" rx="7.3" ry="4.9" transform="rotate(-48 321.2 134.4)"/>
<ellipse class="wh" cx="322.1" cy="135.3" rx="7.3" ry="4.9" transform="rotate(-48 322.1 135.3)"/>
<ellipse class="w" cx="323" cy="136.2" rx="7.2" ry="4.8" transform="rotate(-48 323 136.2)"/>
<ellipse class="l" cx="323.2" cy="136.4" rx="4.6" ry="3" transform="rotate(-48 323.2 136.4)"/>
<path class="t" d="M320.4 137.2L322.6 134.2L326 135.4L325.2 138.2L322.4 139Z"/>
<ellipse class="w" cx="330.5" cy="145.6" rx="10.6" ry="6.6" transform="rotate(-42 330.5 145.6)"/>
<ellipse class="l" cx="330.5" cy="145.6" rx="9.2" ry="5.6" transform="rotate(-42 330.5 145.6)"/>
<ellipse class="h" cx="330.8" cy="145.9" rx="6.6" ry="3.7" transform="rotate(-42 330.8 145.9)"/>
<ellipse class="w" cx="371.5" cy="327.4" rx="10" ry="5.6"/>
<ellipse class="h" cx="371.5" cy="327.1" rx="6.4" ry="3.2"/>
<ellipse class="w" cx="371.6" cy="353.4" rx="10.2" ry="4.4"/>
<ellipse class="w" cx="371.6" cy="351.6" rx="10.2" ry="4.4"/>
<ellipse class="wh" cx="371.6" cy="350" rx="6.5" ry="2.9"/>
<ellipse class="wh" cx="371.6" cy="348.4" rx="6.5" ry="2.9"/>
<ellipse class="wh" cx="371.6" cy="346.8" rx="6.5" ry="2.9"/>
<ellipse class="wh" cx="371.6" cy="345.2" rx="6.5" ry="2.9"/>
<ellipse class="wh" cx="371.6" cy="343.6" rx="6.5" ry="2.9"/>
<ellipse class="wh" cx="371.6" cy="342" rx="6.5" ry="2.9"/>
<ellipse class="wh" cx="371.6" cy="340.4" rx="6.5" ry="2.9"/>
<ellipse class="w" cx="371.6" cy="339.8" rx="6.5" ry="2.9"/>
<ellipse class="l" cx="371.6" cy="340" rx="3.8" ry="1.6"/>
</g>
<g id="p_30_gear">
<path class="w" d="M503 372.9A6.2 3.6 -120 0 1 509.2 383.7L501.4 388.2A6.2 3.6 -120 0 1 495.2 377.4Z"/>
<path class="w" d="M464.1 380.1L465.4 375.5L469.3 369.6L472.6 370.3L475.9 378.2L478.6 375.5L481.2 368.3L485.8 368.9L488.4 376.2L491.1 371.6L493.7 369.6L497 372.2L498.9 376.8L502.2 371.6L506.8 372.2L510.8 376.8L511.4 382.1L508.2 385.4L506.2 388.7L506.8 392.6L505.5 397.9L501.6 403.2L499.6 409.7L495 413.7L491.1 413L489.1 409.7L486.4 415L483.2 415L481.2 411.1L477.9 411.7L472.6 405.8Z"/>
<path class="l" d="M475.9 378.2L481.8 379.5L485.8 384.1"/>
<path class="l" d="M488.4 376.2L485.8 382.1L485.1 386.1"/>
<path class="l" d="M481.2 368.3L483.2 374.2L481.8 379.5"/>
<path class="l" d="M493.7 369.6L491.7 376.2L491.1 383.4L493 391.3L497.6 396.6"/>
<path class="l" d="M498.9 376.8L497.6 383.4L498.9 390L501.6 395.3"/>
<path class="l" d="M502.2 371.6L504.2 378.2L504.2 384.7"/>
<path class="l" d="M491.1 395.3L493.7 401.8L499.6 409.7"/>
<path class="l" d="M489.1 409.7L492.4 405.8L493.7 401.8"/>
<path class="l" d="M485.8 392.6L488.4 399.2L491.1 395.3"/>
<path class="l" d="M483.2 415L485.1 408.4L488.4 399.2"/>
<path class="l" d="M506.2 388.7L502.9 392.6L501.6 403.2"/>
<path class="l" d="M485.1 386.1L487.1 383.4L491.1 383.4"/>
<path class="w" d="M468.3 381.4A16.2 9.4 -120 0 1 484.5 409.5L480.6 411.7A16.2 9.4 -120 0 1 464.4 383.7Z"/>
<ellipse class="w" cx="472.5" cy="397.7" rx="16.2" ry="9.4" transform="rotate(-120 472.5 397.7)"/>
<ellipse class="l" cx="472.5" cy="397.7" rx="14.4" ry="8.3" transform="rotate(-120 472.5 397.7)"/>
<ellipse class="h" cx="472.5" cy="397.7" rx="12.6" ry="7.3" transform="rotate(-120 472.5 397.7)"/>
<path class="w" d="M463.5 391.4A10 5.8 -120 0 1 473.5 408.7L454 419.9A10 5.8 -120 0 1 444 402.6Z"/>
<path class="th" d="M444.7 402.3L462.2 392.2"/>
<path class="h" d="M462.2 392.2L464.8 389.9"/>
<path class="l" d="M446.5 402.2L463.4 392.4"/>
<path class="h" d="M463.4 392.4L466 390.1"/>
<path class="th" d="M448.5 402.8L464.8 393.4"/>
<path class="h" d="M464.8 393.4L467.4 391.1"/>
<path class="l" d="M450.5 404.1L466.4 394.9"/>
<path class="h" d="M466.4 394.9L469 392.6"/>
<path class="th" d="M452.4 406L468.1 397"/>
<path class="h" d="M468.1 397L470.7 394.7"/>
<path class="l" d="M454 408.4L469.6 399.4"/>
<path class="h" d="M469.6 399.4L472.2 397.1"/>
<path class="th" d="M455.2 410.9L470.9 401.9"/>
<path class="h" d="M470.9 401.9L473.5 399.6"/>
<path class="l" d="M455.9 413.5L471.8 404.3"/>
<path class="h" d="M471.8 404.3L474.4 402"/>
<path class="th" d="M456.1 415.9L472.4 406.5"/>
<path class="h" d="M472.4 406.5L475 404.2"/>
<path class="l" d="M455.6 418L472.5 408.2"/>
<path class="h" d="M472.5 408.2L475.1 405.9"/>
<path class="th" d="M454.6 419.4L472.1 409.4"/>
<path class="h" d="M472.1 409.4L474.7 407.1"/>
<ellipse class="w" cx="449" cy="411.3" rx="10" ry="5.8" transform="rotate(-120 449 411.3)"/>
<path class="w" d="M444.7 404A8.4 4.9 -120 0 1 453.1 418.6L451.4 419.6A8.4 4.9 -120 0 1 443 405Z"/>
<ellipse class="w" cx="447.2" cy="412.3" rx="8.4" ry="4.9" transform="rotate(-120 447.2 412.3)"/>
<ellipse class="l" cx="447.2" cy="412.3" rx="6.8" ry="3.9" transform="rotate(-120 447.2 412.3)"/>
<ellipse class="wh" cx="445.1" cy="413.5" rx="5.3" ry="3.1" transform="rotate(-120 445.1 413.5)"/>
<ellipse class="wh" cx="443.7" cy="414.3" rx="5.3" ry="3.1" transform="rotate(-120 443.7 414.3)"/>
<ellipse class="wh" cx="442.3" cy="415.1" rx="5.3" ry="3.1" transform="rotate(-120 442.3 415.1)"/>
<ellipse class="wh" cx="440.9" cy="415.9" rx="5.3" ry="3.1" transform="rotate(-120 440.9 415.9)"/>
<ellipse class="wh" cx="439.5" cy="416.7" rx="5.3" ry="3.1" transform="rotate(-120 439.5 416.7)"/>
<ellipse class="wh" cx="438.2" cy="417.5" rx="5.3" ry="3.1" transform="rotate(-120 438.2 417.5)"/>
<ellipse class="wh" cx="436.8" cy="418.3" rx="5.3" ry="3.1" transform="rotate(-120 436.8 418.3)"/>
<ellipse class="wh" cx="435.4" cy="419.1" rx="5.3" ry="3.1" transform="rotate(-120 435.4 419.1)"/>
<ellipse class="w" cx="434" cy="419.9" rx="5.3" ry="3.1" transform="rotate(-120 434 419.9)"/>
<ellipse class="t" cx="434" cy="419.9" rx="3.2" ry="1.8" transform="rotate(-120 434 419.9)"/>
<path class="w" d="M540.3 301.2A28 16.2 -60 0 0 512.3 349.7L557.3 375.7A28 16.2 -60 0 0 585.3 327.2Z"/>
<path class="wm" d="M546.9 419.2L537.8 426.3L536.8 425.2L541.3 417.2L531.8 423.2L531 421.9L536.4 413.9L526.6 418.7L526.1 417.2L532.2 409.3L522.4 412.9L522.1 411.2L529 403.7L519.3 405.9L519.2 404L526.7 397.1L517.3 397.9L517.4 395.8L525.5 389.6L516.4 388.9L516.8 386.7L525.2 381.3L516.7 379.2L517.4 377L526 372.5L518.2 368.9L519.1 366.7L527.8 363.4L520.8 358.4L521.9 356.2L530.6 354.1L524.5 347.7L525.8 345.6L534.3 344.7L529.3 337.2L530.6 335.2L538.9 335.6L534.9 326.9L536.4 325.2L544.2 326.8L541.3 317.2L542.9 315.7L550.1 318.6L548.4 308.3L550.1 306.9L556.6 311.1L556 300.2L557.7 299.1L563.5 304.5L564.1 293.2L565.7 292.4L570.6 298.9L572.3 287.5L573.9 287L577.9 294.4L580.5 283.1L582.1 282.9L585.1 291.1L588.6 280L590.1 280.2L592.1 289.1L596.5 278.5L597.8 278.9L598.8 288.4L603.9 278.5L605.1 279.2L605.1 289.1L610.7 280L611.7 281L610.7 291.1L616.7 283L617.5 284.3L615.7 294.3"/>
<path class="w" d="M611.8 289.3A74 42.7 -60 0 0 537.8 417.5L543 420.5A74 42.7 -60 0 0 617 292.3Z"/>
<ellipse class="w" cx="580" cy="356.4" rx="74" ry="42.7" transform="rotate(-60 580 356.4)"/>
<ellipse class="t" cx="580" cy="356.4" rx="72.2" ry="41.7" transform="rotate(-60 580 356.4)"/>
<ellipse class="t" cx="580" cy="356.4" rx="69.4" ry="40.1" transform="rotate(-60 580 356.4)"/>
<ellipse class="l" cx="580" cy="356.4" rx="58.8" ry="34" transform="rotate(-60 580 356.4)"/>
<path class="l" d="M557.7 409.3A57.8 33.4 -60 1 1 614.6 310.7"/>
<ellipse class="h" cx="580" cy="356.4" rx="47.6" ry="27.5" transform="rotate(-60 580 356.4)"/>
<path class="l" d="M562.6 399.1A46.4 26.8 -60 1 1 608.3 320"/>
<path class="w" d="M605.2 324.8A40 23.1 -60 0 0 565.2 394.1L571.3 397.6A40 23.1 -60 0 0 611.3 328.3Z"/>
<ellipse class="h" cx="591.3" cy="362.9" rx="40" ry="23.1" transform="rotate(-60 591.3 362.9)"/>
<ellipse class="l" cx="591.3" cy="362.9" rx="38.2" ry="22.1" transform="rotate(-60 591.3 362.9)"/>
<ellipse class="l" cx="591.3" cy="362.9" rx="32" ry="18.5" transform="rotate(-60 591.3 362.9)"/>
<path class="l" d="M604.3 334.2A31.6 18.2 -60 0 1 572.9 388.6"/>
<path class="l" d="M592.7 335.4A25 14.4 -60 1 1 566.6 375.8"/>
<path class="t" d="M592.4 336.6A23.4 13.5 -60 1 1 567.4 375.3"/>
<path class="th" d="M571.5 385L578.3 373.4"/>
<path class="th" d="M570.7 383.2L578 372.5"/>
<path class="th" d="M570.1 381.3L577.8 371.6"/>
<path class="th" d="M569.7 379.2L577.6 370.6"/>
<path class="th" d="M569.5 377L577.5 369.5"/>
<path class="th" d="M569.5 374.6L577.5 368.4"/>
<path class="th" d="M569.7 372.2L577.6 367.2"/>
<path class="th" d="M570 369.6L577.7 366"/>
<path class="th" d="M570.6 367L578 364.8"/>
<path class="th" d="M571.3 364.4L578.3 363.6"/>
<path class="th" d="M572.2 361.7L578.6 362.3"/>
<path class="th" d="M573.3 359.1L579.1 361.1"/>
<path class="th" d="M574.5 356.5L579.6 359.9"/>
<path class="th" d="M575.9 353.9L580.2 358.6"/>
<path class="th" d="M577.4 351.5L580.8 357.4"/>
<path class="th" d="M579.1 349.1L581.5 356.3"/>
<path class="l" d="M579 374.7A17 9.8 -60 0 1 583.7 353.2"/>
</g>
<g id="p_40_pinionside">
<path class="w" d="M88 606.4A11.5 6.6 -120 0 1 99.5 626.3L98.1 627.1A11.5 6.6 -120 0 1 86.6 607.2Z"/>
<ellipse class="w" cx="92.4" cy="617.2" rx="11.5" ry="6.6" transform="rotate(-120 92.4 617.2)"/>
<path class="w" d="M87.1 609.1L93.7 610.9L98.5 619.2L96.7 625.7L90.2 624L85.4 615.7Z"/>
<path class="w" d="M87.1 609.1L82.8 611.6L89.4 613.4L93.7 610.9Z"/>
<path class="w" d="M93.7 610.9L89.4 613.4L94.2 621.7L98.5 619.2Z"/>
<path class="w" d="M98.5 619.2L94.2 621.7L92.4 628.2L96.7 625.7Z"/>
<path class="w" d="M96.7 625.7L92.4 628.2L85.8 626.5L90.2 624Z"/>
<path class="w" d="M90.2 624L85.8 626.5L81 618.2L85.4 615.7Z"/>
<path class="w" d="M85.4 615.7L81 618.2L82.8 611.6L87.1 609.1Z"/>
<path class="w" d="M82.8 611.6L89.4 613.4L94.2 621.7L92.4 628.2L85.8 626.5L81 618.2Z"/>
<ellipse class="l" cx="87.6" cy="619.9" rx="7.6" ry="4.4" transform="rotate(-120 87.6 619.9)"/>
<ellipse class="h" cx="87.6" cy="619.9" rx="5.4" ry="3.1" transform="rotate(-120 87.6 619.9)"/>
<ellipse class="t" cx="88.1" cy="619.6" rx="4.3" ry="2.5" transform="rotate(-120 88.1 619.6)"/>
<ellipse class="t" cx="88.1" cy="619.6" rx="3.2" ry="1.8" transform="rotate(-120 88.1 619.6)"/>
<ellipse class="t" cx="88.1" cy="619.6" rx="2.1" ry="1.2" transform="rotate(-120 88.1 619.6)"/>
<path class="w" d="M104 592.7A15.4 8.9 -120 0 1 119.4 619.3L118 620.1A15.4 8.9 -120 0 1 102.6 593.5Z"/>
<ellipse class="w" cx="110.3" cy="606.8" rx="15.4" ry="8.9" transform="rotate(-120 110.3 606.8)"/>
<ellipse class="l" cx="110.3" cy="606.8" rx="5.2" ry="3" transform="rotate(-120 110.3 606.8)"/>
<path class="t" d="M114 610.7A5.2 3 -120 0 1 108.8 601.7"/>
<path class="w" d="M134.2 539.8L134.3 538L134.8 536.5L135.6 535.2L136.6 534.4L137.9 533.9L139.4 533.8L141 534.2L142.7 535L174.7 553.4L176.3 554.6L177.9 556.1L179.4 557.8L180.7 559.8L181.7 561.9L182.5 564L183 566.1L183.2 568.1L183.2 611L183 612.8L182.5 614.3L181.7 615.6L180.7 616.4L179.4 616.9L177.9 617L176.3 616.6L174.7 615.8L142.7 597.4L141 596.2L139.4 594.7L137.9 593L136.6 591L135.6 588.9L134.8 586.8L134.3 584.7L134.2 582.7Z"/>
<path class="w" d="M127.8 543.4L128 541.6L128.5 540.1L129.3 538.8L130.3 538L131.6 537.5L133.1 537.4L134.7 537.8L136.3 538.6L168.3 557L170 558.2L171.6 559.7L173.1 561.4L174.4 563.4L175.4 565.5L176.2 567.6L176.7 569.7L176.8 571.7L176.8 614.6L176.7 616.4L176.2 617.9L175.4 619.2L174.4 620L173.1 620.5L171.6 620.6L170 620.2L168.3 619.4L136.3 601L134.7 599.8L133.1 598.3L131.6 596.6L130.3 594.6L129.3 592.5L128.5 590.4L128 588.3L127.8 586.3Z"/>
<ellipse class="k" cx="133.6" cy="550.4" rx="3.3" ry="2.3" transform="rotate(60 133.6 550.4)"/>
<ellipse class="k" cx="170.6" cy="571.6" rx="3.3" ry="2.3" transform="rotate(60 170.6 571.6)"/>
<ellipse class="k" cx="133.6" cy="593" rx="3.3" ry="2.3" transform="rotate(60 133.6 593)"/>
<ellipse class="k" cx="170.6" cy="613.8" rx="3.3" ry="2.3" transform="rotate(60 170.6 613.8)"/>
<path class="w" d="M141.9 562.8A22.3 12.9 -120 0 1 164.2 601.4L161.2 603.2A22.3 12.9 -120 0 1 138.9 564.5Z"/>
<ellipse class="w" cx="150.1" cy="583.9" rx="22.3" ry="12.9" transform="rotate(-120 150.1 583.9)"/>
<ellipse class="t" cx="150.1" cy="583.9" rx="20.8" ry="12" transform="rotate(-120 150.1 583.9)"/>
<ellipse class="h" cx="150.1" cy="583.9" rx="18.6" ry="10.7" transform="rotate(-120 150.1 583.9)"/>
<ellipse class="l" cx="150.1" cy="583.9" rx="16.4" ry="9.5" transform="rotate(-120 150.1 583.9)"/>
<ellipse class="l" cx="150.9" cy="583.4" rx="14" ry="8.1" transform="rotate(-120 150.9 583.4)"/>
<ellipse class="h" cx="151.8" cy="582.9" rx="11.5" ry="6.6" transform="rotate(-120 151.8 582.9)"/>
<path class="th" d="M147.2 575.9L158.7 576.4"/>
<path class="th" d="M147.2 577.8L158.7 578.2"/>
<path class="th" d="M147.2 579.5L158.7 580"/>
<path class="th" d="M147.2 581.4L158.7 581.8"/>
<path class="th" d="M147.2 583.1L158.7 583.6"/>
<path class="th" d="M147.2 584.9L158.7 585.4"/>
<path class="th" d="M147.2 586.8L158.7 587.2"/>
<path class="th" d="M147.2 588.5L158.7 589"/>
<path class="th" d="M147.2 590.4L158.7 590.8"/>
<path class="w" d="M199.8 523.2A27.6 15.9 -120 0 1 227.4 571.1L220.2 575.3A27.6 15.9 -120 0 1 192.6 527.4Z"/>
<ellipse class="l" cx="206.4" cy="551.3" rx="27.6" ry="15.9" transform="rotate(-120 206.4 551.3)"/>
<ellipse class="l" cx="206.6" cy="551.2" rx="25.6" ry="14.8" transform="rotate(-120 206.6 551.2)"/>
<ellipse class="h" cx="207.2" cy="550.8" rx="22.6" ry="13" transform="rotate(-120 207.2 550.8)"/>
<ellipse class="t" cx="207.7" cy="550.5" rx="20.6" ry="11.9" transform="rotate(-120 207.7 550.5)"/>
<ellipse class="l" cx="208.4" cy="550.1" rx="18.6" ry="10.7" transform="rotate(-120 208.4 550.1)"/>
<ellipse class="h" cx="209" cy="549.8" rx="16.2" ry="9.4" transform="rotate(-120 209 549.8)"/>
<path class="t" d="M218.5 562.5A16 9.2 -120 0 1 202.7 535.3"/>
<path class="t" d="M219.4 561.2A16 9.2 -120 0 1 204.3 535.2"/>
<ellipse class="t2" cx="313.4" cy="489.6" rx="36.7" ry="21.2" transform="rotate(-120 313.4 489.6)"/>
<ellipse class="t2" cx="313.4" cy="489.6" rx="34.2" ry="19.7" transform="rotate(-120 313.4 489.6)"/>
<path class="w" d="M348.7 434.8A29.8 17.2 -120 0 1 378.5 486.4L366.8 493.1A29.8 17.2 -120 0 1 337 441.5Z"/>
<ellipse class="l" cx="351.9" cy="467.3" rx="29.8" ry="17.2" transform="rotate(-120 351.9 467.3)"/>
<ellipse class="l" cx="351.9" cy="467.3" rx="24.6" ry="14.2" transform="rotate(-120 351.9 467.3)"/>
<ellipse class="t" cx="351.9" cy="467.3" rx="23.2" ry="13.4" transform="rotate(-120 351.9 467.3)"/>
<ellipse class="l" cx="351.9" cy="467.3" rx="19" ry="11" transform="rotate(-120 351.9 467.3)"/>
<ellipse class="t" cx="351.9" cy="467.3" rx="17.8" ry="10.3" transform="rotate(-120 351.9 467.3)"/>
<ellipse class="l" cx="351.9" cy="467.3" rx="11.8" ry="6.8" transform="rotate(-120 351.9 467.3)"/>
<path class="t" d="M361.1 475.5A11.8 6.8 -120 0 1 349.4 455.3"/>
<path class="t" d="M347.1 447.5L351.3 446.9L349.9 450.9Z"/>
<path class="t" d="M364.2 478.9L368.4 478.3L367 482.3Z"/>
<path class="t" d="M352.4 484.6L356.6 484L355.2 488Z"/>
<path class="t" d="M335.3 453.3L339.5 452.7L338.1 456.7Z"/>
<path class="w" d="M388.5 411.2A30.3 17.5 -120 0 1 418.8 463.7L412.3 467.4A30.3 17.5 -120 0 1 382 415Z"/>
<path class="t" d="M377.4 423.9A30.3 17.5 -120 1 1 417.1 463.5"/>
<path class="t" d="M378.8 423.1A30.3 17.5 -120 1 1 418.5 462.7"/>
<path class="t" d="M380.2 422.3A30.3 17.5 -120 1 1 419.9 461.9"/>
<path class="t" d="M381.4 421.6A30.3 17.5 -120 1 1 421.1 461.2"/>
<ellipse class="w" cx="397.2" cy="441.2" rx="30.3" ry="17.5" transform="rotate(-120 397.2 441.2)"/>
<ellipse class="l" cx="397.2" cy="441.2" rx="21.6" ry="12.5" transform="rotate(-120 397.2 441.2)"/>
<path class="l" d="M410.6 458.3A21.6 12.5 -120 0 1 389.1 421"/>
<path class="t" d="M411.8 457.3A21.6 12.5 -120 0 1 390.5 420.5"/>
<path class="w" d="M394.5 422.3L394.4 419.3L396.8 420.4L397.2 423.6"/>
<path class="w" d="M412.2 446.8L414.8 448.1L415 451.1L412.4 450"/>
<path class="w" d="M399.8 460.1L399.9 463.1L397.5 461.9L397.2 458.8"/>
<path class="w" d="M382.1 435.6L379.6 434.3L379.3 431.3L381.9 432.4"/>
</g>
<g id="p_41_flange24">
<path class="w" d="M278.5 469.6A34.2 19.7 -120 0 1 312.7 528.8L291.9 540.8A34.2 19.7 -120 0 1 257.7 481.6Z"/>
<path class="w" d="M264.1 474.7A37 21.4 -120 0 1 301.1 538.7L293.3 543.2A37 21.4 -120 0 1 256.3 479.2Z"/>
<path class="t" d="M252.8 483.7A37 21.4 -120 1 1 287.6 544"/>
<path class="t" d="M254.2 482.9A37 21.4 -120 1 1 289 543.2"/>
<path class="t" d="M255.6 482.1A37 21.4 -120 1 1 290.4 542.4"/>
<path class="t" d="M257 481.3A37 21.4 -120 1 1 291.7 541.6"/>
<path class="w" d="M250.9 469.8L251.2 468.8L251.6 468L252.1 467.4L252.8 467.1L253.6 467L254.4 467.1L255.4 467.4L256.4 467.9L257.4 468.5L258.4 469.1L259.4 469.6L260.3 470.2L261.3 470.7L262.2 471.2L263.1 471.7L263.9 472.2L264.8 472.7L265.6 473.2L266.4 473.6L267.2 474.1L268 474.5L268.8 475L269.5 475.4L270.3 475.9L271.1 476.3L271.8 476.7L272.6 477.2L273.3 477.6L274.1 478L274.8 478.5L275.5 478.9L276.3 479.3L277 479.7L277.8 480.2L278.5 480.6L279.3 481L280.1 481.5L280.8 481.9L281.6 482.4L282.4 482.8L283.2 483.3L284 483.8L284.9 484.2L285.7 484.7L286.6 485.2L287.4 485.7L288.4 486.3L289.3 486.8L290.2 487.3L291.2 487.9L292.2 488.5L293.3 489.1L294.3 489.7L295.4 490.4L296.4 491.2L297.3 492.1L298.1 493.2L298.8 494.3L299.3 495.5L299.7 496.8L300 498.1L300.1 499.5L300.1 500.8L300.1 502.1L300.1 503.3L300.1 504.5L300.1 505.7L300.1 506.8L300.1 507.9L300.1 508.9L300.1 509.9L300.1 510.9L300.1 511.9L300.1 512.8L300.1 513.7L300.1 514.6L300.1 515.5L300.1 516.3L300.1 517.2L300.1 518L300.2 518.8L300.2 519.6L300.3 520.4L300.4 521.3L300.4 522.1L300.5 522.9L300.6 523.7L300.6 524.5L300.7 525.3L300.7 526.1L300.7 526.9L300.6 527.7L300.6 528.4L300.5 529.2L300.4 529.9L300.4 530.6L300.3 531.4L300.2 532.1L300.2 532.9L300.1 533.7L300.1 534.5L300.1 535.4L300.1 536.2L300.1 537.1L300.1 538L300.1 538.9L300.1 539.8L300.1 540.8L300.1 541.7L300.1 542.8L300.1 543.8L300.1 544.9L300.1 546L300.1 547.1L300.1 548.3L300.1 549.6L300.1 550.8L300 552L299.8 553.1L299.5 554L299 554.6L298.4 555L297.6 555.2L296.7 555.2L295.8 554.9L294.8 554.4L293.7 553.9L292.7 553.3L291.7 552.7L290.7 552.2L289.8 551.6L288.8 551.1L288 550.6L287.1 550.1L286.2 549.6L285.4 549.2L284.6 548.7L283.8 548.2L283 547.8L282.2 547.3L281.4 546.9L280.7 546.5L279.9 546.1L279.2 545.6L278.4 545.2L277.7 544.8L277 544.4L276.2 544L275.5 543.6L274.8 543.1L274.1 542.7L273.3 542.3L272.6 541.9L271.9 541.5L271.1 541.1L270.4 540.7L269.7 540.2L268.9 539.8L268.1 539.4L267.4 538.9L266.6 538.5L265.8 538L265 537.6L264.1 537.1L263.3 536.6L262.4 536.1L261.5 535.6L260.6 535.1L259.7 534.6L258.7 534L257.7 533.5L256.7 532.9L255.7 532.2L254.7 531.5L253.8 530.6L253 529.7L252.3 528.6L251.7 527.5L251.3 526.3L251 525L250.8 523.7L250.8 522.4L250.7 521.1L250.7 519.8L250.7 518.7L250.7 517.5L250.7 516.4L250.7 515.4L250.7 514.4L250.7 513.4L250.7 512.4L250.7 511.5L250.7 510.6L250.7 509.7L250.7 508.8L250.6 508L250.4 507.1L250.2 506.2L250 505.4L249.8 504.5L249.6 503.7L249.5 502.8L249.4 502L249.2 501.1L249.1 500.3L249.1 499.5L249 498.7L249 497.9L248.9 497.1L248.9 496.3L248.9 495.5L249 494.7L249 494L249.1 493.2L249.1 492.5L249.2 491.8L249.4 491.1L249.5 490.4L249.6 489.7L249.8 489L250 488.4L250.2 487.8L250.4 487.1L250.6 486.5L250.7 485.7L250.7 484.9L250.7 484.1L250.7 483.1L250.7 482.2L250.7 481.3L250.7 480.3L250.7 479.3L250.7 478.2L250.7 477.1L250.7 476L250.7 474.8L250.7 473.6L250.8 472.3L250.8 471Z"/>
<path class="w" d="M245.7 472.8L246 471.8L246.4 471L246.9 470.4L247.6 470.1L248.4 470L249.2 470.1L250.2 470.4L251.2 470.9L252.2 471.5L253.2 472.1L254.2 472.6L255.2 473.2L256.1 473.7L257 474.2L257.9 474.7L258.7 475.2L259.6 475.7L260.4 476.2L261.2 476.6L262 477.1L262.8 477.5L263.6 478L264.3 478.4L265.1 478.9L265.9 479.3L266.6 479.7L267.4 480.2L268.1 480.6L268.9 481L269.6 481.5L270.3 481.9L271.1 482.3L271.8 482.7L272.6 483.2L273.3 483.6L274.1 484L274.9 484.5L275.6 484.9L276.4 485.4L277.2 485.8L278 486.3L278.8 486.8L279.7 487.2L280.5 487.7L281.4 488.2L282.3 488.7L283.2 489.3L284.1 489.8L285 490.3L286 490.9L287 491.5L288.1 492.1L289.1 492.7L290.2 493.4L291.2 494.2L292.1 495.1L292.9 496.2L293.6 497.3L294.1 498.5L294.5 499.8L294.8 501.1L294.9 502.5L294.9 503.8L294.9 505.1L294.9 506.3L294.9 507.5L294.9 508.7L294.9 509.8L294.9 510.9L294.9 511.9L294.9 512.9L294.9 513.9L294.9 514.9L294.9 515.8L294.9 516.7L294.9 517.6L294.9 518.5L294.9 519.3L294.9 520.2L295 521L295 521.8L295 522.6L295.1 523.4L295.2 524.3L295.2 525.1L295.3 525.9L295.4 526.7L295.4 527.5L295.5 528.3L295.5 529.1L295.5 529.9L295.4 530.7L295.4 531.4L295.3 532.2L295.2 532.9L295.2 533.6L295.1 534.4L295 535.1L295 535.9L295 536.7L294.9 537.5L294.9 538.4L294.9 539.2L294.9 540.1L294.9 541L294.9 541.9L294.9 542.8L294.9 543.8L294.9 544.7L294.9 545.8L294.9 546.8L294.9 547.9L294.9 549L294.9 550.1L294.9 551.3L294.9 552.6L294.9 553.8L294.8 555L294.6 556.1L294.3 557L293.8 557.6L293.2 558L292.4 558.2L291.6 558.2L290.6 557.9L289.6 557.4L288.5 556.9L287.5 556.3L286.5 555.7L285.5 555.2L284.6 554.6L283.7 554.1L282.8 553.6L281.9 553.1L281 552.6L280.2 552.2L279.4 551.7L278.6 551.2L277.8 550.8L277 550.3L276.2 549.9L275.5 549.5L274.7 549.1L274 548.6L273.2 548.2L272.5 547.8L271.8 547.4L271 547L270.3 546.6L269.6 546.1L268.9 545.7L268.1 545.3L267.4 544.9L266.7 544.5L265.9 544.1L265.2 543.7L264.5 543.2L263.7 542.8L262.9 542.4L262.2 541.9L261.4 541.5L260.6 541L259.8 540.6L258.9 540.1L258.1 539.6L257.2 539.1L256.3 538.6L255.4 538.1L254.5 537.6L253.5 537L252.5 536.5L251.5 535.9L250.5 535.2L249.5 534.5L248.6 533.6L247.8 532.7L247.1 531.6L246.5 530.5L246.1 529.3L245.8 528L245.6 526.7L245.6 525.4L245.6 524.1L245.6 522.8L245.6 521.7L245.6 520.5L245.6 519.4L245.6 518.4L245.6 517.4L245.6 516.4L245.6 515.4L245.6 514.5L245.5 513.6L245.5 512.7L245.5 511.8L245.4 511L245.2 510.1L245 509.2L244.8 508.4L244.6 507.5L244.4 506.7L244.3 505.8L244.2 505L244.1 504.1L244 503.3L243.9 502.5L243.8 501.7L243.8 500.9L243.7 500.1L243.7 499.3L243.7 498.5L243.8 497.7L243.8 497L243.9 496.2L244 495.5L244.1 494.8L244.2 494.1L244.3 493.4L244.4 492.7L244.6 492L244.8 491.4L245 490.8L245.2 490.1L245.4 489.5L245.5 488.7L245.5 487.9L245.5 487.1L245.6 486.1L245.6 485.2L245.6 484.3L245.6 483.3L245.6 482.3L245.6 481.2L245.6 480.1L245.6 479L245.6 477.8L245.6 476.6L245.6 475.3L245.6 474Z"/>
<ellipse class="l" cx="250.5" cy="476.2" rx="3.4" ry="2.6" transform="rotate(60 250.5 476.2)"/>
<ellipse class="l" cx="290" cy="498.9" rx="3.4" ry="2.6" transform="rotate(60 290 498.9)"/>
<ellipse class="l" cx="290" cy="552" rx="3.4" ry="2.6" transform="rotate(60 290 552)"/>
<ellipse class="l" cx="250.5" cy="529.6" rx="3.4" ry="2.6" transform="rotate(60 250.5 529.6)"/>
<ellipse class="l" cx="269.6" cy="514.2" rx="33.6" ry="19.4" transform="rotate(-120 269.6 514.2)"/>
<ellipse class="h" cx="270" cy="514" rx="31.8" ry="18.4" transform="rotate(-120 270 514)"/>
<ellipse class="l" cx="270.9" cy="513.5" rx="29.4" ry="17" transform="rotate(-120 270.9 513.5)"/>
<ellipse class="l" cx="272.2" cy="512.7" rx="26.6" ry="15.4" transform="rotate(-120 272.2 512.7)"/>
<path class="l" d="M286.8 532.5A24.5 14.1 -120 0 1 262.4 490.2"/>
<path class="t" d="M288.2 531.3A24.5 14.1 -120 0 1 264.1 489.5"/>
<path class="t" d="M281.9 528.4A22.5 13 -120 0 1 263.8 495.1"/>
<path class="t" d="M283.2 527.6A22.5 13 -120 0 1 265.1 494.3"/>
<path class="t" d="M284.5 526.9A22.5 13 -120 0 1 266.4 493.6"/>
<path class="t" d="M285.8 526.1A22.5 13 -120 0 1 267.7 492.8"/>
<path class="t" d="M287.1 525.4A22.5 13 -120 0 1 269 492.1"/>
<path class="t" d="M288.4 524.6A22.5 13 -120 0 1 270.3 491.3"/>
<path class="t" d="M289.7 523.9A22.5 13 -120 0 1 271.6 490.6"/>
<path class="t" d="M291 523.1A22.5 13 -120 0 1 272.9 489.8"/>
<path class="t" d="M292.3 522.4A22.5 13 -120 0 1 274.2 489.1"/>
<path class="t" d="M293.6 521.6A22.5 13 -120 0 1 275.4 488.3"/>
<path class="h" d="M285.8 529.2A22.5 13 -120 0 1 265.3 491.6"/>
</g>
<g id="p_50_rings">
<ellipse class="w" cx="650.5" cy="397.1" rx="46.8" ry="27" transform="rotate(-60 650.5 397.1)"/>
<ellipse class="l" cx="651" cy="397.4" rx="41" ry="23.7" transform="rotate(-60 651 397.4)"/>
<path class="w" d="M738.9 377.7A61 35.2 -60 0 0 677.9 483.4L687.4 488.9A61 35.2 -60 0 0 748.4 383.2Z"/>
<ellipse class="l" cx="717.9" cy="436.1" rx="61" ry="35.2" transform="rotate(-60 717.9 436.1)"/>
<ellipse class="l" cx="717.9" cy="436.1" rx="55.3" ry="31.9" transform="rotate(-60 717.9 436.1)"/>
<ellipse class="t" cx="717.9" cy="436.1" rx="53.6" ry="30.9" transform="rotate(-60 717.9 436.1)"/>
<ellipse class="l" cx="717.9" cy="436.1" rx="49" ry="28.3" transform="rotate(-60 717.9 436.1)"/>
<ellipse class="t" cx="717.9" cy="436.1" rx="47.6" ry="27.5" transform="rotate(-60 717.9 436.1)"/>
<ellipse class="l" cx="717.9" cy="436.1" rx="40.2" ry="23.2" transform="rotate(-60 717.9 436.1)"/>
<path class="l" d="M732.2 398.9A40.2 23.2 -60 0 1 692.9 467"/>
<path class="t" d="M736.3 402.1A38.8 22.4 -60 0 1 697.7 469"/>
<ellipse class="t" cx="737.8" cy="389.2" rx="2.2" ry="1.6" transform="rotate(-60 737.8 389.2)"/>
<ellipse class="t" cx="745.1" cy="392.1" rx="2.2" ry="1.6" transform="rotate(-60 745.1 392.1)"/>
<ellipse class="t" cx="695.9" cy="482.5" rx="2.2" ry="1.6" transform="rotate(-60 695.9 482.5)"/>
<ellipse class="t" cx="689.9" cy="479.4" rx="2.2" ry="1.6" transform="rotate(-60 689.9 479.4)"/>
<ellipse class="t" cx="685.3" cy="474" rx="2.2" ry="1.6" transform="rotate(-60 685.3 474)"/>
<ellipse class="t2" cx="790.7" cy="478.1" rx="75.3" ry="43.5" transform="rotate(-60 790.7 478.1)"/>
<ellipse class="t2" cx="790.7" cy="478.1" rx="72.7" ry="42" transform="rotate(-60 790.7 478.1)"/>
</g>
<g id="p_60_cover7">
<path class="w" d="M877.3 439.9L877.8 440.2L878.3 440.5L878.8 440.8L879.3 441.1L879.7 441.5L880.2 441.8L880.6 442.2L881.1 442.5L881.5 442.9L882 443.3L882.4 443.7L882.8 444.1L883.2 444.6L883.6 445L884 445.4L884.4 445.9L884.8 446.4L885.2 446.8L885.5 447.3L885.9 447.8L886.2 448.3L886.7 448.6L887.6 448.6L889 447.8L890.9 446.7L892.6 445.7L893.9 445.2L894.8 445.2L895.3 445.6L895.8 446.1L896.1 446.8L896.2 447.6L896.2 448.6L895.9 449.9L895.1 451.6L893.9 453.7L892.5 455.9L891.6 457.7L891.2 458.8L891.3 459.7L891.4 460.4L891.6 461.1L891.7 461.8L891.9 462.5L892 463.2L892.2 463.9L892.3 464.6L892.4 465.4L892.5 466.1L892.6 466.8L892.7 467.6L892.8 468.4L892.8 469.1L892.9 469.9L893 470.7L893 471.5L893 472.3L893.1 473.1L893.1 473.9L893.1 474.7L893.1 475.5L893.1 476.3L893 477.1L893 478L893 478.8L892.9 479.6L892.8 480.5L892.8 481.3L892.7 482.2L892.6 483L892.5 483.9L892.4 484.8L892.3 485.6L892.2 486.5L892 487.4L891.9 488.3L891.7 489.1L891.6 490L891.4 490.9L891.4 491.8L891.7 492.5L892.6 493.2L893.9 493.8L895.1 494.5L895.8 495.3L896.2 496.1L896.2 497.1L896.1 498.1L895.9 499.1L895.4 500.1L894.9 501.2L894.1 502.2L893.1 503.2L891.7 504.3L890 505.2L888.4 506.2L887.3 507.1L886.7 508L886.2 509L885.9 509.9L885.5 510.8L885.2 511.7L884.8 512.6L884.4 513.5L884 514.4L883.6 515.3L883.2 516.2L882.8 517.1L882.4 518L882 518.9L881.5 519.8L881.1 520.6L880.7 521.5L880.2 522.4L879.7 523.3L879.3 524.2L878.8 525L878.3 525.9L877.8 526.8L877.3 527.6L876.8 528.5L876.3 529.4L875.8 530.2L875.3 531.1L874.8 531.9L874.2 532.7L873.7 533.6L873.2 534.4L872.6 535.2L872.1 536L871.5 536.9L870.9 537.7L870.4 538.5L869.8 539.3L869.2 540.1L868.6 540.8L868 541.6L867.5 542.5L867.1 543.6L866.9 545.1L867 546.9L867.1 548.8L867 550.5L866.6 551.9L866.1 553L865.5 554L864.9 554.9L864.1 555.7L863.3 556.3L862.5 556.8L861.5 557L860.4 556.7L859.1 556.1L857.9 555.4L856.9 555.1L856 555.3L855.3 555.8L854.6 556.4L853.9 557L853.2 557.6L852.6 558.2L851.9 558.8L851.2 559.4L850.5 559.9L849.8 560.5L849.1 561.1L848.4 561.6L847.7 562.1L847.1 562.7L846.4 563.2L845.7 563.7L845 564.2L844.3 564.6L843.6 565.1L842.9 565.6L842.2 566L841.4 566.5L840.7 566.9L840 567.3L839.3 567.7L838.6 568.1L837.9 568.5L837.2 568.9L836.5 569.3L835.8 569.6L835.1 570L834.4 570.3L833.7 570.6L833 571L832.3 571.3L831.6 571.6L830.9 571.8L830.2 572.1L829.5 572.4L828.9 572.6L828.2 572.8L827.5 573.1L826.8 573.3L826.1 573.5L825.4 573.7L824.8 573.8L824.1 574L823.4 574.2L822.7 574.3L822 574.7L821.1 575.6L819.9 577.4L818.6 579.9L817.3 582.2L816.1 583.8L815.1 584.8L814.2 585.3L813.4 585.6L812.7 585.6L812 585.5L811.4 585.1L811 584.3L810.9 582.8L811.1 580.5L811.4 577.9L811.4 576L811.2 575.1L810.7 574.8L810.1 574.6L809.5 574.5L808.9 574.4L808.3 574.3L807.8 574.1L807.2 574L806.6 573.8L806.1 573.6L805.5 573.4L805 573.2L804.4 573L803.9 572.8L803.4 572.6L802.9 572.3L802.4 572.1L801.8 571.8L801.3 571.5L800.9 571.2L800.4 570.9L799.9 570.6L799.4 570.3L798.9 569.9L798.5 569.6L798 569.2L797.6 568.9L797.1 568.5L796.7 568.1L796.3 567.7L795.9 567.3L795.5 566.8L795 566.4L794.4 566.2L793.4 566.7L791.6 568L789.3 569.9L787.2 571.5L785.7 572.3L784.8 572.4L784.2 572.1L783.7 571.6L783.4 570.9L783.2 570.1L783.2 569L783.6 567.6L784.5 565.6L786 563.1L787.5 560.5L788.6 558.4L789 557.1L788.9 556.3L788.7 555.7L788.5 555L788.2 554.4L788 553.7L787.8 553.1L787.6 552.4L787.4 551.7L787.3 551L787.1 550.3L786.9 549.6L786.8 548.9L786.6 548.2L786.5 547.5L786.4 546.8L786.3 546L786.2 545.3L786.1 544.6L786 543.8L785.9 543L785.8 542.3L785.8 541.5L785.7 540.7L785.7 539.9L785.6 539.1L785.6 538.3L785.6 537.5L785.6 536.7L785.6 535.9L785.6 535.1L785.6 534.3L785.7 533.4L785.7 532.6L785.8 531.8L785.8 530.9L785.9 530.1L786 529.2L786.1 528.4L786.2 527.5L786.3 526.6L786.4 525.8L786.5 524.9L786.6 524L786.8 523.1L786.9 522.3L787.1 521.4L787.3 520.5L787.4 519.6L787.6 518.7L787.8 517.8L788 516.9L788.2 516L788.5 515.1L788.7 514.2L788.9 513.3L789.2 512.4L789.4 511.5L789.5 510.6L789.1 509.7L788.1 508.9L786.6 508L785.3 507.1L784.6 506.1L784.4 505.1L784.5 504L784.8 503L785.2 501.9L785.7 500.9L786.5 499.9L787.5 499L788.9 498.1L790.8 497.4L792.8 496.7L794.3 496L795.3 495.2L795.8 494.3L796.3 493.4L796.7 492.5L797.1 491.6L797.6 490.8L798 489.9L798.5 489L798.9 488.1L799.4 487.2L799.9 486.4L800.4 485.5L800.8 484.6L801.3 483.8L801.8 482.9L802.3 482L802.9 481.2L803.4 480.3L803.9 479.5L804.4 478.7L805 477.8L805.5 477L806.1 476.2L806.6 475.4L807.2 474.5L807.8 473.7L808.3 472.9L808.9 472.1L809.5 471.3L810.1 470.5L810.6 469.6L810.8 468.4L810.8 466.6L810.5 464.5L810.3 462.4L810.3 460.7L810.7 459.4L811.3 458.3L811.9 457.3L812.6 456.5L813.4 455.7L814.3 455.2L815.2 454.9L816.4 455.1L817.8 455.9L819.2 456.9L820.4 457.5L821.3 457.4L822.1 456.9L822.7 456.3L823.4 455.6L824.1 455L824.8 454.4L825.4 453.8L826.1 453.2L826.8 452.6L827.5 452L828.2 451.5L828.9 450.9L829.5 450.3L830.2 449.8L830.9 449.3L831.6 448.7L832.3 448.2L833 447.7L833.7 447.2L834.4 446.8L835.1 446.3L835.8 445.8L836.5 445.4L837.2 444.9L837.9 444.5L838.6 444.1L839.3 443.7L840 443.3L840.7 442.9L841.4 442.5L842.1 442.1L842.8 441.8L843.6 441.4L844.3 441.1L845 440.8L845.7 440.4L846.3 440.1L847 439.8L847.7 439.6L848.4 439.3L849.1 439L849.8 438.8L850.5 438.6L851.2 438.3L851.9 438.1L852.6 437.9L853.2 437.7L853.9 437.6L854.6 437.4L855.3 437.2L856 436.9L856.9 436L858 434.4L859.2 432.1L860.5 430L861.6 428.5L862.6 427.6L863.4 427.1L864.2 426.8L864.9 426.8L865.6 426.9L866.2 427.2L866.6 428L866.8 429.4L866.7 431.5L866.6 433.7L866.6 435.4L866.9 436.3L867.4 436.6L868 436.7L868.6 436.8L869.2 436.9L869.8 437L870.3 437.1L870.9 437.3L871.5 437.4L872 437.6L872.6 437.8L873.2 438L873.7 438.2L874.2 438.4L874.8 438.6L875.3 438.8L875.8 439.1L876.3 439.3L876.8 439.6Z"/>
<path class="l" d="M878.8 441.3L879.3 441.6L879.8 441.9L880.3 442.2L880.7 442.6L881.2 442.9L881.7 443.2L882.1 443.6L882.6 444L883 444.3L883.4 444.7L883.8 445.1L884.3 445.5L884.7 446L885.1 446.4L885.5 446.8L885.8 447.3L886.2 447.7L886.6 448.2L886.9 448.7L887.3 449.2L887.7 449.7L888.1 450L888.9 450L890.3 449.4L892 448.3L893.8 447.3L895.1 446.8L896 446.7L896.7 447L897.1 447.5L897.4 448.2L897.5 449.1L897.5 450.1L897.1 451.4L896.2 453.2L895 455.3L893.7 457.4L892.9 459.1L892.6 460.2L892.6 461L892.8 461.7L893 462.3L893.1 463L893.3 463.7L893.4 464.5L893.6 465.2L893.7 465.9L893.8 466.6L893.9 467.4L894 468.1L894.1 468.9L894.2 469.6L894.2 470.4L894.3 471.1L894.3 471.9L894.4 472.7L894.4 473.5L894.4 474.3L894.4 475.1L894.4 475.9L894.4 476.7L894.4 477.5L894.4 478.3L894.4 479.2L894.3 480L894.3 480.8L894.2 481.7L894.2 482.5L894.1 483.3L894 484.2L893.9 485L893.8 485.9L893.7 486.8L893.6 487.6L893.4 488.5L893.3 489.4L893.1 490.2L893 491.1L892.8 492L892.8 492.9L893 493.7L893.7 494.4L894.9 495L896.1 495.6L897 496.4L897.4 497.2L897.5 498.2L897.4 499.1L897.2 500.2L896.8 501.2L896.2 502.2L895.3 503.2L894 504.3L892.3 505.3L890.6 506.3L889.3 507.2L888.5 508.1L888 509L887.6 509.9L887.3 510.8L886.9 511.7L886.6 512.6L886.2 513.5L885.8 514.4L885.5 515.3L885.1 516.2L884.7 517.1L884.3 518L883.8 518.9L883.4 519.8L883 520.7L882.6 521.5L882.1 522.4L881.7 523.3L881.2 524.2L880.7 525L880.3 525.9L879.8 526.8L879.3 527.6L878.8 528.5L878.3 529.3L877.8 530.2L877.3 531L876.8 531.9L876.3 532.7L875.7 533.6L875.2 534.4L874.7 535.2L874.1 536L873.6 536.8L873 537.6L872.4 538.5L871.9 539.2L871.3 540L870.7 540.8L870.1 541.6L869.6 542.4L869 543.2L868.4 544L868.1 545.2L868.1 546.8L868.2 548.8L868.3 550.8L868.1 552.4L867.7 553.6L867.1 554.7L866.4 555.5L865.7 556.3L864.9 556.9L864 557.2L862.9 557.1L861.6 556.4L860.3 555.6L859.2 555.2L858.3 555.3L857.6 555.8L856.9 556.4L856.2 557L855.6 557.7L854.9 558.3L854.2 558.9L853.5 559.4L852.9 560L852.2 560.6L851.5 561.1L850.8 561.7L850.1 562.2L849.4 562.8L848.7 563.3L848 563.8L847.3 564.3L846.7 564.8L846 565.3L845.3 565.7L844.6 566.2L843.9 566.6L843.2 567.1L842.5 567.5L841.8 567.9L841.1 568.3L840.4 568.7L839.7 569.1L839 569.5L838.3 569.9L837.6 570.2L836.9 570.6L836.2 570.9L835.5 571.2L834.8 571.5L834.1 571.8L833.4 572.1L832.7 572.4L832 572.7L831.3 572.9L830.7 573.2L830 573.4L829.3 573.6L828.6 573.8L827.9 574L827.3 574.2L826.6 574.4L825.9 574.6L825.2 574.7L824.6 574.8L823.9 575L823.2 575.4L822.2 576.4L821 578.4L819.6 581.1L818.2 583.4L817.1 584.9L816.2 585.7L815.3 586L814.6 586.1L813.9 585.9L813.4 585.5L813 584.6L812.9 583L813.1 580.7L813.3 578.3L813.4 576.5L813.1 575.6L812.6 575.3L812 575.2L811.4 575.1L810.8 575L810.3 574.8L809.7 574.7L809.1 574.5L808.6 574.4L808 574.2L807.5 574L806.9 573.8L806.4 573.6L805.9 573.4L805.4 573.1L804.8 572.9L804.3 572.6L803.8 572.4L803.3 572.1L802.8 571.8L802.4 571.5L801.9 571.2L801.4 570.8L800.9 570.5L800.5 570.2L800 569.8L799.6 569.4L799.2 569.1L798.7 568.7L798.3 568.3L797.9 567.9L797.5 567.4L797.1 567L796.5 566.8L795.5 567.2L793.7 568.4L791.5 570.3L789.5 571.9L788 572.7L787 572.9L786.3 572.7L785.8 572.2L785.5 571.5L785.4 570.6L785.6 569.3L786.4 567.4L787.9 564.8L789.6 562L790.8 559.8L791.3 558.4L791.2 557.6L791 556.9L790.8 556.3L790.5 555.7L790.3 555.1L790.1 554.4L789.9 553.8L789.7 553.1L789.5 552.4L789.3 551.7L789.2 551.1L789 550.4L788.9 549.7L788.7 548.9L788.6 548.2L788.5 547.5L788.3 546.8L788.2 546L788.1 545.3L788.1 544.5L788 543.8L787.9 543L787.9 542.3L787.8 541.5L787.8 540.7L787.7 539.9L787.7 539.1L787.7 538.3L787.7 537.5L787.7 536.7L787.7 535.9L787.7 535.1L787.8 534.2L787.8 533.4L787.9 532.6L787.9 531.7L788 530.9L788.1 530.1L788.1 529.2L788.2 528.4L788.3 527.5L788.5 526.6L788.6 525.8L788.7 524.9L788.9 524L789 523.2L789.2 522.3L789.3 521.4L789.5 520.5L789.7 519.6L789.9 518.7L790.1 517.9L790.3 517L790.5 516.1L790.8 515.2L791 514.3L791.2 513.4L791.5 512.5L791.6 511.6L791.3 510.7L790.3 509.9L788.9 509L787.6 508.1L786.8 507.1L786.6 506.1L786.6 505L786.9 504L787.3 503L787.9 502L788.8 501L790.1 500.1L792.1 499.4L794.2 498.7L795.9 498L796.9 497.2L797.5 496.3L797.9 495.4L798.3 494.5L798.7 493.6L799.1 492.7L799.6 491.9L800 491L800.5 490.1L800.9 489.2L801.4 488.4L801.9 487.5L802.3 486.6L802.8 485.8L803.3 484.9L803.8 484.1L804.3 483.2L804.8 482.4L805.4 481.5L805.9 480.7L806.4 479.8L806.9 479L807.5 478.2L808 477.4L808.6 476.6L809.1 475.8L809.7 474.9L810.3 474.2L810.8 473.4L811.4 472.6L812 471.8L812.6 471L813.1 470.1L813.3 468.8L813.2 466.9L812.8 464.7L812.6 462.5L812.8 460.9L813.2 459.6L813.8 458.7L814.5 457.8L815.3 457.1L816.2 456.6L817.2 456.4L818.4 456.7L819.7 457.4L821.1 458.3L822.3 458.8L823.2 458.7L823.9 458.2L824.6 457.6L825.2 457L825.9 456.4L826.6 455.7L827.3 455.1L827.9 454.5L828.6 454L829.3 453.4L830 452.8L830.7 452.3L831.3 451.7L832 451.2L832.7 450.6L833.4 450.1L834.1 449.6L834.8 449.1L835.5 448.6L836.2 448.1L836.9 447.7L837.6 447.2L838.3 446.8L839 446.3L839.7 445.9L840.4 445.5L841.1 445.1L841.8 444.7L842.5 444.3L843.2 443.9L843.9 443.5L844.6 443.2L845.3 442.8L846 442.5L846.6 442.2L847.3 441.9L848 441.6L848.7 441.3L849.4 441L850.1 440.7L850.8 440.5L851.5 440.2L852.2 440L852.8 439.8L853.5 439.6L854.2 439.4L854.9 439.2L855.6 439L856.2 438.8L856.9 438.7L857.6 438.4L858.4 437.7L859.5 436.2L860.7 434.1L861.9 432L863.1 430.3L864.1 429.3L865 428.7L865.8 428.4L866.5 428.3L867.2 428.5L867.7 428.9L868.1 429.7L868.3 431.2L868.2 433.2L868.1 435.4L868.1 437L868.4 437.8L869 438L869.6 438.1L870.1 438.2L870.7 438.3L871.3 438.4L871.9 438.6L872.4 438.7L873 438.9L873.6 439L874.1 439.2L874.7 439.4L875.2 439.6L875.7 439.8L876.3 440L876.8 440.3L877.3 440.5L877.8 440.8L878.3 441Z"/>
<path class="t" d="M880.7 442.4L881.2 442.7L881.7 443L882.2 443.3L882.6 443.7L883.1 444L883.6 444.3L884 444.7L884.5 445.1L884.9 445.4L885.3 445.8L885.7 446.2L886.2 446.6L886.6 447.1L887 447.5L887.4 447.9L887.7 448.4L888.1 448.8L888.5 449.3L888.8 449.8L889.2 450.3L889.6 450.8L890 451.1L890.8 451.1L892.2 450.5L893.9 449.4L895.7 448.4L897 447.9L897.9 447.8L898.6 448.1L899 448.6L899.3 449.3L899.4 450.2L899.4 451.2L899 452.5L898.1 454.3L896.9 456.4L895.6 458.5L894.8 460.2L894.5 461.3L894.6 462.1L894.7 462.8L894.9 463.4L895 464.1L895.2 464.8L895.3 465.6L895.5 466.3L895.6 467L895.7 467.7L895.8 468.5L895.9 469.2L896 470L896.1 470.7L896.1 471.5L896.2 472.2L896.2 473L896.3 473.8L896.3 474.6L896.3 475.4L896.4 476.2L896.4 477L896.4 477.8L896.3 478.6L896.3 479.4L896.3 480.3L896.2 481.1L896.2 481.9L896.1 482.8L896.1 483.6L896 484.4L895.9 485.3L895.8 486.1L895.7 487L895.6 487.9L895.5 488.7L895.3 489.6L895.2 490.5L895 491.3L894.9 492.2L894.7 493.1L894.7 494L894.9 494.8L895.6 495.5L896.8 496.1L898 496.7L898.9 497.5L899.3 498.3L899.4 499.3L899.3 500.2L899.1 501.3L898.7 502.3L898.1 503.3L897.2 504.3L895.9 505.4L894.2 506.4L892.5 507.4L891.2 508.3L890.4 509.2L889.9 510.1L889.5 511L889.2 511.9L888.9 512.8L888.5 513.7L888.1 514.6L887.7 515.5L887.4 516.4L887 517.3L886.6 518.2L886.2 519.1L885.7 520L885.3 520.9L884.9 521.8L884.5 522.6L884 523.5L883.6 524.4L883.1 525.3L882.6 526.1L882.2 527L881.7 527.9L881.2 528.7L880.7 529.6L880.2 530.4L879.7 531.3L879.2 532.1L878.7 533L878.2 533.8L877.6 534.7L877.1 535.5L876.6 536.3L876 537.1L875.5 537.9L874.9 538.7L874.4 539.6L873.8 540.3L873.2 541.1L872.6 541.9L872 542.7L871.5 543.5L870.9 544.3L870.4 545.1L870 546.3L870 547.9L870.1 549.9L870.2 551.9L870 553.5L869.6 554.7L869 555.8L868.3 556.6L867.6 557.4L866.8 558L865.9 558.3L864.8 558.2L863.5 557.5L862.2 556.7L861.1 556.3L860.2 556.4L859.5 556.9L858.8 557.5L858.1 558.1L857.5 558.8L856.8 559.4L856.1 560L855.4 560.5L854.8 561.1L854.1 561.7L853.4 562.2L852.7 562.8L852 563.3L851.3 563.9L850.6 564.4L849.9 564.9L849.3 565.4L848.6 565.9L847.9 566.4L847.2 566.8L846.5 567.3L845.8 567.7L845.1 568.2L844.4 568.6L843.7 569L843 569.4L842.3 569.8L841.6 570.2L840.9 570.6L840.2 571L839.5 571.3L838.8 571.7L838.1 572L837.4 572.3L836.7 572.6L836 572.9L835.3 573.2L834.6 573.5L833.9 573.8L833.2 574L832.6 574.3L831.9 574.5L831.2 574.7L830.5 574.9L829.8 575.1L829.2 575.3L828.5 575.5L827.8 575.7L827.1 575.8L826.5 575.9L825.8 576.1L825.1 576.5L824.1 577.5L822.9 579.5L821.5 582.2L820.1 584.5L819 586L818.1 586.8L817.2 587.1L816.5 587.2L815.8 587L815.3 586.6L814.9 585.7L814.8 584.1L815 581.8L815.2 579.4L815.3 577.6L815 576.7L814.5 576.4L813.9 576.3L813.3 576.2L812.7 576.1L812.2 575.9L811.6 575.8L811 575.6L810.5 575.5L809.9 575.3L809.4 575.1L808.8 574.9L808.3 574.7L807.8 574.5L807.3 574.2L806.7 574L806.2 573.7L805.7 573.5L805.2 573.2L804.7 572.9L804.3 572.6L803.8 572.3L803.3 571.9L802.8 571.6L802.4 571.3L801.9 570.9L801.5 570.5L801.1 570.2L800.6 569.8L800.2 569.4L799.8 569L799.4 568.5L799 568.1L798.4 567.9L797.4 568.3L795.7 569.5L793.4 571.4L791.4 573L789.9 573.8L788.9 574L788.2 573.8L787.7 573.3L787.4 572.6L787.3 571.7L787.5 570.4L788.3 568.5L789.8 565.9L791.5 563.1L792.7 560.9L793.2 559.5L793.1 558.7L792.9 558L792.7 557.4L792.4 556.8L792.2 556.2L792 555.5L791.8 554.9L791.6 554.2L791.4 553.5L791.2 552.8L791.1 552.2L790.9 551.5L790.8 550.8L790.6 550L790.5 549.3L790.4 548.6L790.3 547.9L790.1 547.1L790.1 546.4L790 545.6L789.9 544.9L789.8 544.1L789.8 543.4L789.7 542.6L789.7 541.8L789.6 541L789.6 540.2L789.6 539.4L789.6 538.6L789.6 537.8L789.6 537L789.6 536.2L789.7 535.3L789.7 534.5L789.8 533.7L789.8 532.8L789.9 532L790 531.2L790.1 530.3L790.1 529.5L790.3 528.6L790.4 527.7L790.5 526.9L790.6 526L790.8 525.1L790.9 524.3L791.1 523.4L791.2 522.5L791.4 521.6L791.6 520.7L791.8 519.8L792 519L792.2 518.1L792.4 517.2L792.7 516.3L792.9 515.4L793.1 514.5L793.4 513.6L793.5 512.7L793.2 511.8L792.2 511L790.8 510.1L789.5 509.2L788.7 508.2L788.5 507.2L788.5 506.1L788.8 505.1L789.2 504.1L789.8 503.1L790.7 502.1L792 501.2L794 500.5L796.1 499.8L797.8 499.1L798.8 498.3L799.4 497.4L799.8 496.5L800.2 495.6L800.6 494.7L801.1 493.8L801.5 493L801.9 492.1L802.4 491.2L802.8 490.3L803.3 489.5L803.8 488.6L804.3 487.7L804.7 486.9L805.2 486L805.7 485.2L806.2 484.3L806.7 483.5L807.3 482.6L807.8 481.8L808.3 480.9L808.8 480.1L809.4 479.3L809.9 478.5L810.5 477.7L811 476.9L811.6 476L812.2 475.3L812.7 474.5L813.3 473.7L813.9 472.9L814.5 472.1L815 471.2L815.2 469.9L815.1 468L814.7 465.8L814.5 463.6L814.7 462L815.1 460.7L815.7 459.8L816.5 458.9L817.2 458.2L818.1 457.7L819.1 457.5L820.3 457.8L821.6 458.5L823 459.4L824.2 459.9L825.1 459.8L825.8 459.3L826.5 458.7L827.1 458.1L827.8 457.5L828.5 456.8L829.2 456.2L829.8 455.6L830.5 455.1L831.2 454.5L831.9 453.9L832.6 453.4L833.2 452.8L833.9 452.3L834.6 451.7L835.3 451.2L836 450.7L836.7 450.2L837.4 449.7L838.1 449.2L838.8 448.8L839.5 448.3L840.2 447.9L840.9 447.4L841.6 447L842.3 446.6L843 446.2L843.7 445.8L844.4 445.4L845.1 445L845.8 444.6L846.5 444.3L847.2 443.9L847.9 443.6L848.6 443.3L849.2 443L849.9 442.7L850.6 442.4L851.3 442.1L852 441.8L852.7 441.6L853.4 441.3L854.1 441.1L854.8 440.9L855.4 440.7L856.1 440.5L856.8 440.3L857.5 440.1L858.1 439.9L858.8 439.8L859.5 439.5L860.3 438.8L861.4 437.3L862.6 435.2L863.8 433.1L865 431.4L866 430.4L866.9 429.8L867.7 429.5L868.4 429.4L869.1 429.6L869.6 430L870 430.8L870.2 432.3L870.1 434.3L870 436.5L870 438.1L870.3 438.9L870.9 439.1L871.5 439.2L872 439.3L872.6 439.4L873.2 439.5L873.8 439.7L874.3 439.8L874.9 440L875.5 440.1L876 440.3L876.6 440.5L877.1 440.7L877.6 440.9L878.2 441.1L878.7 441.4L879.2 441.6L879.7 441.9L880.2 442.1Z"/>
<path class="w" d="M883.4 443.4L883.9 443.7L884.4 444L884.9 444.3L885.3 444.6L885.8 445L886.3 445.3L886.7 445.7L887.2 446L887.6 446.4L888 446.8L888.5 447.2L888.9 447.6L889.3 448.1L889.7 448.5L890.1 448.9L890.5 449.4L890.8 449.9L891.2 450.3L891.6 450.8L891.9 451.3L892.3 451.8L892.8 452.1L893.6 452.1L895.1 451.3L896.9 450.2L898.7 449.2L900 448.7L900.8 448.7L901.4 449.1L901.8 449.6L902.1 450.3L902.3 451.1L902.3 452.1L902 453.4L901.2 455.1L899.9 457.2L898.6 459.4L897.6 461.2L897.3 462.3L897.3 463.2L897.5 463.9L897.6 464.6L897.8 465.3L898 466L898.1 466.7L898.2 467.4L898.4 468.1L898.5 468.9L898.6 469.6L898.7 470.3L898.8 471.1L898.8 471.9L898.9 472.6L899 473.4L899 474.2L899.1 475L899.1 475.8L899.1 476.6L899.1 477.4L899.1 478.2L899.1 479L899.1 479.8L899.1 480.6L899.1 481.5L899 482.3L899 483.1L898.9 484L898.8 484.8L898.8 485.7L898.7 486.5L898.6 487.4L898.5 488.3L898.4 489.1L898.2 490L898.1 490.9L898 491.8L897.8 492.6L897.6 493.5L897.5 494.4L897.5 495.3L897.8 496L898.7 496.7L899.9 497.3L901.1 498L901.9 498.8L902.2 499.6L902.3 500.6L902.2 501.6L901.9 502.6L901.5 503.6L901 504.7L900.2 505.7L899.1 506.7L897.7 507.8L896.1 508.7L894.5 509.7L893.4 510.6L892.7 511.5L892.3 512.5L891.9 513.4L891.6 514.3L891.2 515.2L890.8 516.1L890.5 517L890.1 517.9L889.7 518.8L889.3 519.7L888.9 520.6L888.5 521.5L888 522.4L887.6 523.3L887.2 524.1L886.7 525L886.3 525.9L885.8 526.8L885.3 527.7L884.9 528.5L884.4 529.4L883.9 530.3L883.4 531.1L882.9 532L882.4 532.9L881.9 533.7L881.4 534.6L880.8 535.4L880.3 536.2L879.8 537.1L879.2 537.9L878.7 538.7L878.1 539.5L877.6 540.4L877 541.2L876.4 542L875.8 542.8L875.3 543.6L874.7 544.3L874.1 545.1L873.5 546L873.1 547.1L873 548.6L873.1 550.4L873.2 552.3L873 554L872.7 555.4L872.2 556.5L871.6 557.5L870.9 558.4L870.2 559.2L869.4 559.8L868.5 560.3L867.6 560.5L866.4 560.2L865.2 559.6L864 558.9L862.9 558.6L862.1 558.8L861.3 559.3L860.7 559.9L860 560.5L859.3 561.1L858.6 561.7L857.9 562.3L857.3 562.9L856.6 563.4L855.9 564L855.2 564.6L854.5 565.1L853.8 565.6L853.1 566.2L852.4 566.7L851.7 567.2L851 567.7L850.3 568.1L849.6 568.6L848.9 569.1L848.2 569.5L847.5 570L846.8 570.4L846.1 570.8L845.4 571.2L844.7 571.6L844 572L843.3 572.4L842.6 572.8L841.9 573.1L841.2 573.5L840.5 573.8L839.8 574.1L839.1 574.5L838.4 574.8L837.7 575.1L837 575.3L836.3 575.6L835.6 575.9L834.9 576.1L834.2 576.3L833.5 576.6L832.9 576.8L832.2 577L831.5 577.2L830.8 577.3L830.1 577.5L829.5 577.7L828.8 577.8L828.1 578.2L827.2 579.1L826 580.9L824.7 583.4L823.3 585.7L822.2 587.3L821.2 588.3L820.3 588.8L819.5 589.1L818.7 589.1L818.1 589L817.5 588.6L817.1 587.8L816.9 586.3L817.1 584L817.4 581.4L817.5 579.5L817.2 578.6L816.7 578.3L816.1 578.1L815.5 578L815 577.9L814.4 577.8L813.8 577.6L813.3 577.5L812.7 577.3L812.1 577.1L811.6 576.9L811 576.7L810.5 576.5L810 576.3L809.4 576.1L808.9 575.8L808.4 575.6L807.9 575.3L807.4 575L806.9 574.7L806.4 574.4L805.9 574.1L805.5 573.8L805 573.4L804.5 573.1L804.1 572.7L803.6 572.4L803.2 572L802.8 571.6L802.3 571.2L801.9 570.8L801.5 570.3L801.1 569.9L800.5 569.7L799.4 570.2L797.6 571.5L795.4 573.4L793.3 575L791.8 575.8L790.9 575.9L790.2 575.6L789.8 575.1L789.4 574.4L789.2 573.6L789.3 572.5L789.6 571.1L790.5 569.1L792 566.6L793.6 564L794.7 561.9L795 560.6L795 559.8L794.7 559.2L794.5 558.5L794.3 557.9L794.1 557.2L793.9 556.6L793.7 555.9L793.5 555.2L793.3 554.5L793.2 553.8L793 553.1L792.8 552.4L792.7 551.7L792.6 551L792.4 550.3L792.3 549.5L792.2 548.8L792.1 548.1L792 547.3L792 546.5L791.9 545.8L791.8 545L791.8 544.2L791.7 543.4L791.7 542.6L791.7 541.8L791.7 541L791.7 540.2L791.7 539.4L791.7 538.6L791.7 537.8L791.7 536.9L791.8 536.1L791.8 535.3L791.9 534.4L792 533.6L792 532.7L792.1 531.9L792.2 531L792.3 530.1L792.4 529.3L792.6 528.4L792.7 527.5L792.8 526.6L793 525.8L793.2 524.9L793.3 524L793.5 523.1L793.7 522.2L793.9 521.3L794.1 520.4L794.3 519.5L794.5 518.6L794.7 517.7L795 516.8L795.2 515.9L795.5 515L795.6 514.1L795.2 513.2L794.1 512.4L792.7 511.5L791.4 510.6L790.6 509.6L790.4 508.6L790.5 507.5L790.8 506.5L791.2 505.4L791.8 504.4L792.5 503.4L793.5 502.5L795 501.6L796.9 500.9L798.9 500.2L800.4 499.5L801.4 498.7L801.9 497.8L802.3 496.9L802.8 496L803.2 495.1L803.6 494.3L804.1 493.4L804.5 492.5L805 491.6L805.5 490.7L805.9 489.9L806.4 489L806.9 488.1L807.4 487.3L807.9 486.4L808.4 485.5L808.9 484.7L809.4 483.8L810 483L810.5 482.2L811 481.3L811.6 480.5L812.1 479.7L812.7 478.9L813.2 478L813.8 477.2L814.4 476.4L815 475.6L815.5 474.8L816.1 474L816.6 473.1L816.9 471.9L816.8 470.1L816.5 468L816.3 465.9L816.4 464.2L816.8 462.9L817.3 461.8L818 460.8L818.7 460L819.5 459.2L820.3 458.7L821.3 458.4L822.5 458.6L823.8 459.4L825.3 460.4L826.5 461L827.4 460.9L828.1 460.4L828.8 459.8L829.5 459.1L830.1 458.5L830.8 457.9L831.5 457.3L832.2 456.7L832.9 456.1L833.5 455.5L834.2 455L834.9 454.4L835.6 453.8L836.3 453.3L837 452.8L837.7 452.2L838.4 451.7L839.1 451.2L839.8 450.7L840.5 450.3L841.2 449.8L841.9 449.3L842.6 448.9L843.3 448.4L844 448L844.7 447.6L845.4 447.2L846.1 446.8L846.8 446.4L847.5 446L848.2 445.6L848.9 445.3L849.6 444.9L850.3 444.6L851 444.3L851.7 443.9L852.4 443.6L853.1 443.3L853.8 443.1L854.5 442.8L855.2 442.5L855.9 442.3L856.6 442.1L857.3 441.8L857.9 441.6L858.6 441.4L859.3 441.2L860 441.1L860.7 440.9L861.3 440.7L862.1 440.4L862.9 439.5L864 437.9L865.3 435.6L866.5 433.5L867.7 432L868.6 431.1L869.5 430.6L870.3 430.3L871 430.3L871.7 430.4L872.3 430.7L872.7 431.5L872.9 432.9L872.8 435L872.6 437.2L872.6 438.9L873 439.8L873.5 440.1L874.1 440.2L874.7 440.3L875.3 440.4L875.8 440.5L876.4 440.6L877 440.8L877.5 440.9L878.1 441.1L878.7 441.3L879.2 441.5L879.8 441.7L880.3 441.9L880.8 442.1L881.4 442.3L881.9 442.6L882.4 442.8L882.9 443.1Z"/>
<ellipse class="l" cx="868.9" cy="436.1" rx="3.4" ry="2.5" transform="rotate(-60 868.9 436.1)"/>
<ellipse class="l" cx="897.8" cy="454.3" rx="3.4" ry="2.5" transform="rotate(-60 897.8 454.3)"/>
<ellipse class="l" cx="897.8" cy="502.8" rx="3.4" ry="2.5" transform="rotate(-60 897.8 502.8)"/>
<ellipse class="l" cx="868.9" cy="554.9" rx="3.4" ry="2.5" transform="rotate(-60 868.9 554.9)"/>
<ellipse class="l" cx="820.9" cy="583.3" rx="3.4" ry="2.5" transform="rotate(-60 820.9 583.3)"/>
<ellipse class="l" cx="793.7" cy="570.3" rx="3.4" ry="2.5" transform="rotate(-60 793.7 570.3)"/>
<ellipse class="l" cx="794.9" cy="506.4" rx="3.4" ry="2.5" transform="rotate(-60 794.9 506.4)"/>
<ellipse class="l" cx="820.4" cy="463.8" rx="3.4" ry="2.5" transform="rotate(-60 820.4 463.8)"/>
<ellipse class="l" cx="845.4" cy="509.2" rx="71.5" ry="41.3" transform="rotate(-60 845.4 509.2)"/>
<ellipse class="l" cx="846.1" cy="509.6" rx="68.5" ry="39.6" transform="rotate(-60 846.1 509.6)"/>
<path class="t" d="M834.7 465.2A65.5 37.8 -60 0 1 873.3 538.4"/>
<path class="w" d="M865 446L860.9 468.6L864.6 468.4L868.6 445.8"/>
<path class="w" d="M891.3 460L879 477.4L880.5 480.8L892.8 463.4"/>
<path class="w" d="M893 501.5L880.6 504.9L879.2 510.1L891.6 506.6"/>
<path class="w" d="M868.7 547.7L864.7 536.1L861 540.2L865.1 551.7"/>
<path class="w" d="M827 573.5L836.7 554.1L833 554.2L823.4 573.6"/>
<path class="w" d="M801.9 509.9L819 512.3L820.9 507.1L803.8 504.7"/>
<path class="w" d="M823 472.7L832.8 487.2L836.4 483L826.6 468.6"/>
<ellipse class="w" cx="849" cy="511.3" rx="47.2" ry="27.3" transform="rotate(-60 849 511.3)"/>
<ellipse class="l" cx="849" cy="511.3" rx="45.4" ry="26.2" transform="rotate(-60 849 511.3)"/>
<ellipse class="t" cx="849" cy="511.3" rx="43.6" ry="25.2" transform="rotate(-60 849 511.3)"/>
<ellipse class="l" cx="849" cy="511.3" rx="41.8" ry="24.1" transform="rotate(-60 849 511.3)"/>
<path class="l" d="M869.2 475.1A41.8 24.1 -60 0 1 827.8 546.8"/>
<path class="t" d="M867.9 475.3A41.8 24.1 -60 0 1 827.3 545.6"/>
<path class="w" d="M804.4 541.2A9.4 5.4 -60 0 0 795 557.4L798.5 559.4A9.4 5.4 -60 0 0 807.9 543.2Z"/>
<ellipse class="w" cx="803.2" cy="551.3" rx="9.4" ry="5.4" transform="rotate(-60 803.2 551.3)"/>
<ellipse class="l" cx="803.2" cy="551.3" rx="6" ry="3.5" transform="rotate(-60 803.2 551.3)"/>
<ellipse class="k" cx="803.2" cy="551.3" rx="3.6" ry="2.1" transform="rotate(-60 803.2 551.3)"/>
</g>
<g id="p_70_bolts">
<path class="w" d="M935.2 443.5A4 2.3 -60 0 0 931.2 450.5L947.1 459.6A4 2.3 -60 0 0 951.1 452.7Z"/>
<ellipse class="wh" cx="933.2" cy="447" rx="4" ry="2.3" transform="rotate(-60 933.2 447)"/>
<ellipse class="wh" cx="934.8" cy="447.9" rx="4" ry="2.3" transform="rotate(-60 934.8 447.9)"/>
<ellipse class="wh" cx="936.4" cy="448.8" rx="4" ry="2.3" transform="rotate(-60 936.4 448.8)"/>
<ellipse class="wh" cx="937.9" cy="449.7" rx="4" ry="2.3" transform="rotate(-60 937.9 449.7)"/>
<ellipse class="wh" cx="939.5" cy="450.6" rx="4" ry="2.3" transform="rotate(-60 939.5 450.6)"/>
<ellipse class="wh" cx="941" cy="451.5" rx="4" ry="2.3" transform="rotate(-60 941 451.5)"/>
<ellipse class="wh" cx="942.6" cy="452.4" rx="4" ry="2.3" transform="rotate(-60 942.6 452.4)"/>
<ellipse class="wh" cx="944.2" cy="453.3" rx="4" ry="2.3" transform="rotate(-60 944.2 453.3)"/>
<ellipse class="wh" cx="945.7" cy="454.2" rx="4" ry="2.3" transform="rotate(-60 945.7 454.2)"/>
<ellipse class="wh" cx="947.3" cy="455.1" rx="4" ry="2.3" transform="rotate(-60 947.3 455.1)"/>
<ellipse class="wh" cx="948.8" cy="456" rx="4" ry="2.3" transform="rotate(-60 948.8 456)"/>
<path class="w" d="M952.5 450.3A6.8 3.9 -60 0 0 945.7 462L946.7 462.6A6.8 3.9 -60 0 0 953.5 450.9Z"/>
<ellipse class="w" cx="950.1" cy="456.8" rx="6.8" ry="3.9" transform="rotate(-60 950.1 456.8)"/>
<path class="w" d="M954.1 453.2L953 458.4L949.1 461.9L946.2 460.3L947.2 455.1L951.2 451.6Z"/>
<path class="w" d="M954.1 453.2L957.8 455.4L956.8 460.6L953 458.4Z"/>
<path class="w" d="M953 458.4L956.8 460.6L952.8 464.1L949.1 461.9Z"/>
<path class="w" d="M949.1 461.9L952.8 464.1L949.9 462.4L946.2 460.3Z"/>
<path class="w" d="M946.2 460.3L949.9 462.4L951 457.2L947.2 455.1Z"/>
<path class="w" d="M947.2 455.1L951 457.2L954.9 453.7L951.2 451.6Z"/>
<path class="w" d="M951.2 451.6L954.9 453.7L957.8 455.4L954.1 453.2Z"/>
<path class="w" d="M957.8 455.4L956.8 460.6L952.8 464.1L949.9 462.4L951 457.2L954.9 453.7Z"/>
<ellipse class="t" cx="953.9" cy="458.9" rx="3.6" ry="2.1" transform="rotate(-60 953.9 458.9)"/>
<path class="w" d="M936.8 469.8A4 2.3 -60 0 0 932.8 476.8L948.7 485.9A4 2.3 -60 0 0 952.7 479Z"/>
<ellipse class="wh" cx="934.8" cy="473.3" rx="4" ry="2.3" transform="rotate(-60 934.8 473.3)"/>
<ellipse class="wh" cx="936.4" cy="474.2" rx="4" ry="2.3" transform="rotate(-60 936.4 474.2)"/>
<ellipse class="wh" cx="938" cy="475.1" rx="4" ry="2.3" transform="rotate(-60 938 475.1)"/>
<ellipse class="wh" cx="939.5" cy="476" rx="4" ry="2.3" transform="rotate(-60 939.5 476)"/>
<ellipse class="wh" cx="941.1" cy="476.9" rx="4" ry="2.3" transform="rotate(-60 941.1 476.9)"/>
<ellipse class="wh" cx="942.6" cy="477.8" rx="4" ry="2.3" transform="rotate(-60 942.6 477.8)"/>
<ellipse class="wh" cx="944.2" cy="478.7" rx="4" ry="2.3" transform="rotate(-60 944.2 478.7)"/>
<ellipse class="wh" cx="945.8" cy="479.6" rx="4" ry="2.3" transform="rotate(-60 945.8 479.6)"/>
<ellipse class="wh" cx="947.3" cy="480.5" rx="4" ry="2.3" transform="rotate(-60 947.3 480.5)"/>
<ellipse class="wh" cx="948.9" cy="481.4" rx="4" ry="2.3" transform="rotate(-60 948.9 481.4)"/>
<ellipse class="wh" cx="950.4" cy="482.3" rx="4" ry="2.3" transform="rotate(-60 950.4 482.3)"/>
<path class="w" d="M954.1 476.6A6.8 3.9 -60 0 0 947.3 488.3L948.3 488.9A6.8 3.9 -60 0 0 955.1 477.2Z"/>
<ellipse class="w" cx="951.7" cy="483.1" rx="6.8" ry="3.9" transform="rotate(-60 951.7 483.1)"/>
<path class="w" d="M955.7 479.5L954.6 484.7L950.7 488.2L947.8 486.6L948.8 481.4L952.8 477.9Z"/>
<path class="w" d="M955.7 479.5L959.4 481.7L958.4 486.9L954.6 484.7Z"/>
<path class="w" d="M954.6 484.7L958.4 486.9L954.4 490.4L950.7 488.2Z"/>
<path class="w" d="M950.7 488.2L954.4 490.4L951.5 488.7L947.8 486.6Z"/>
<path class="w" d="M947.8 486.6L951.5 488.7L952.6 483.5L948.8 481.4Z"/>
<path class="w" d="M948.8 481.4L952.6 483.5L956.5 480L952.8 477.9Z"/>
<path class="w" d="M952.8 477.9L956.5 480L959.4 481.7L955.7 479.5Z"/>
<path class="w" d="M959.4 481.7L958.4 486.9L954.4 490.4L951.5 488.7L952.6 483.5L956.5 480Z"/>
<ellipse class="t" cx="955.5" cy="485.2" rx="3.6" ry="2.1" transform="rotate(-60 955.5 485.2)"/>
<path class="w" d="M957.3 505.9A4 2.3 -60 0 0 953.3 512.9L969.2 522A4 2.3 -60 0 0 973.2 515.1Z"/>
<ellipse class="wh" cx="955.3" cy="509.4" rx="4" ry="2.3" transform="rotate(-60 955.3 509.4)"/>
<ellipse class="wh" cx="956.9" cy="510.3" rx="4" ry="2.3" transform="rotate(-60 956.9 510.3)"/>
<ellipse class="wh" cx="958.5" cy="511.2" rx="4" ry="2.3" transform="rotate(-60 958.5 511.2)"/>
<ellipse class="wh" cx="960" cy="512.1" rx="4" ry="2.3" transform="rotate(-60 960 512.1)"/>
<ellipse class="wh" cx="961.6" cy="513" rx="4" ry="2.3" transform="rotate(-60 961.6 513)"/>
<ellipse class="wh" cx="963.1" cy="513.9" rx="4" ry="2.3" transform="rotate(-60 963.1 513.9)"/>
<ellipse class="wh" cx="964.7" cy="514.8" rx="4" ry="2.3" transform="rotate(-60 964.7 514.8)"/>
<ellipse class="wh" cx="966.3" cy="515.7" rx="4" ry="2.3" transform="rotate(-60 966.3 515.7)"/>
<ellipse class="wh" cx="967.8" cy="516.6" rx="4" ry="2.3" transform="rotate(-60 967.8 516.6)"/>
<ellipse class="wh" cx="969.4" cy="517.5" rx="4" ry="2.3" transform="rotate(-60 969.4 517.5)"/>
<ellipse class="wh" cx="970.9" cy="518.4" rx="4" ry="2.3" transform="rotate(-60 970.9 518.4)"/>
<path class="w" d="M974.6 512.7A6.8 3.9 -60 0 0 967.8 524.4L968.8 525A6.8 3.9 -60 0 0 975.6 513.3Z"/>
<ellipse class="w" cx="972.2" cy="519.1" rx="6.8" ry="3.9" transform="rotate(-60 972.2 519.1)"/>
<path class="w" d="M976.2 515.6L975.1 520.8L971.2 524.3L968.3 522.7L969.3 517.5L973.3 514Z"/>
<path class="w" d="M976.2 515.6L979.9 517.8L978.9 523L975.1 520.8Z"/>
<path class="w" d="M975.1 520.8L978.9 523L974.9 526.5L971.2 524.3Z"/>
<path class="w" d="M971.2 524.3L974.9 526.5L972 524.8L968.3 522.7Z"/>
<path class="w" d="M968.3 522.7L972 524.8L973.1 519.6L969.3 517.5Z"/>
<path class="w" d="M969.3 517.5L973.1 519.6L977 516.1L973.3 514Z"/>
<path class="w" d="M973.3 514L977 516.1L979.9 517.8L976.2 515.6Z"/>
<path class="w" d="M979.9 517.8L978.9 523L974.9 526.5L972 524.8L973.1 519.6L977 516.1Z"/>
<ellipse class="t" cx="976" cy="521.3" rx="3.6" ry="2.1" transform="rotate(-60 976 521.3)"/>
<path class="w" d="M927.1 517.7A4 2.3 -60 0 0 923.1 524.7L939 533.8A4 2.3 -60 0 0 943 526.9Z"/>
<ellipse class="wh" cx="925.1" cy="521.2" rx="4" ry="2.3" transform="rotate(-60 925.1 521.2)"/>
<ellipse class="wh" cx="926.7" cy="522.1" rx="4" ry="2.3" transform="rotate(-60 926.7 522.1)"/>
<ellipse class="wh" cx="928.3" cy="523" rx="4" ry="2.3" transform="rotate(-60 928.3 523)"/>
<ellipse class="wh" cx="929.8" cy="523.9" rx="4" ry="2.3" transform="rotate(-60 929.8 523.9)"/>
<ellipse class="wh" cx="931.4" cy="524.8" rx="4" ry="2.3" transform="rotate(-60 931.4 524.8)"/>
<ellipse class="wh" cx="932.9" cy="525.7" rx="4" ry="2.3" transform="rotate(-60 932.9 525.7)"/>
<ellipse class="wh" cx="934.5" cy="526.6" rx="4" ry="2.3" transform="rotate(-60 934.5 526.6)"/>
<ellipse class="wh" cx="936.1" cy="527.5" rx="4" ry="2.3" transform="rotate(-60 936.1 527.5)"/>
<ellipse class="wh" cx="937.6" cy="528.4" rx="4" ry="2.3" transform="rotate(-60 937.6 528.4)"/>
<ellipse class="wh" cx="939.2" cy="529.3" rx="4" ry="2.3" transform="rotate(-60 939.2 529.3)"/>
<ellipse class="wh" cx="940.7" cy="530.2" rx="4" ry="2.3" transform="rotate(-60 940.7 530.2)"/>
<path class="w" d="M944.4 524.5A6.8 3.9 -60 0 0 937.6 536.2L938.6 536.8A6.8 3.9 -60 0 0 945.4 525.1Z"/>
<ellipse class="w" cx="942" cy="530.9" rx="6.8" ry="3.9" transform="rotate(-60 942 530.9)"/>
<path class="w" d="M946 527.4L944.9 532.6L941 536.1L938.1 534.5L939.1 529.3L943.1 525.8Z"/>
<path class="w" d="M946 527.4L949.7 529.6L948.7 534.8L944.9 532.6Z"/>
<path class="w" d="M944.9 532.6L948.7 534.8L944.7 538.3L941 536.1Z"/>
<path class="w" d="M941 536.1L944.7 538.3L941.8 536.6L938.1 534.5Z"/>
<path class="w" d="M938.1 534.5L941.8 536.6L942.9 531.4L939.1 529.3Z"/>
<path class="w" d="M939.1 529.3L942.9 531.4L946.8 527.9L943.1 525.8Z"/>
<path class="w" d="M943.1 525.8L946.8 527.9L949.7 529.6L946 527.4Z"/>
<path class="w" d="M949.7 529.6L948.7 534.8L944.7 538.3L941.8 536.6L942.9 531.4L946.8 527.9Z"/>
<ellipse class="t" cx="945.8" cy="533.1" rx="3.6" ry="2.1" transform="rotate(-60 945.8 533.1)"/>
<path class="w" d="M924.5 597A4 2.3 -60 0 0 920.5 604L936.4 613.1A4 2.3 -60 0 0 940.4 606.2Z"/>
<ellipse class="wh" cx="922.5" cy="600.5" rx="4" ry="2.3" transform="rotate(-60 922.5 600.5)"/>
<ellipse class="wh" cx="924.1" cy="601.4" rx="4" ry="2.3" transform="rotate(-60 924.1 601.4)"/>
<ellipse class="wh" cx="925.7" cy="602.3" rx="4" ry="2.3" transform="rotate(-60 925.7 602.3)"/>
<ellipse class="wh" cx="927.2" cy="603.2" rx="4" ry="2.3" transform="rotate(-60 927.2 603.2)"/>
<ellipse class="wh" cx="928.8" cy="604.1" rx="4" ry="2.3" transform="rotate(-60 928.8 604.1)"/>
<ellipse class="wh" cx="930.3" cy="605" rx="4" ry="2.3" transform="rotate(-60 930.3 605)"/>
<ellipse class="wh" cx="931.9" cy="605.9" rx="4" ry="2.3" transform="rotate(-60 931.9 605.9)"/>
<ellipse class="wh" cx="933.5" cy="606.8" rx="4" ry="2.3" transform="rotate(-60 933.5 606.8)"/>
<ellipse class="wh" cx="935" cy="607.7" rx="4" ry="2.3" transform="rotate(-60 935 607.7)"/>
<ellipse class="wh" cx="936.6" cy="608.6" rx="4" ry="2.3" transform="rotate(-60 936.6 608.6)"/>
<ellipse class="wh" cx="938.1" cy="609.5" rx="4" ry="2.3" transform="rotate(-60 938.1 609.5)"/>
<path class="w" d="M941.8 603.8A6.8 3.9 -60 0 0 935 615.5L936 616.1A6.8 3.9 -60 0 0 942.8 604.4Z"/>
<ellipse class="w" cx="939.4" cy="610.2" rx="6.8" ry="3.9" transform="rotate(-60 939.4 610.2)"/>
<path class="w" d="M943.4 606.7L942.3 611.9L938.4 615.4L935.5 613.8L936.5 608.6L940.5 605.1Z"/>
<path class="w" d="M943.4 606.7L947.1 608.9L946.1 614.1L942.3 611.9Z"/>
<path class="w" d="M942.3 611.9L946.1 614.1L942.1 617.6L938.4 615.4Z"/>
<path class="w" d="M938.4 615.4L942.1 617.6L939.2 615.9L935.5 613.8Z"/>
<path class="w" d="M935.5 613.8L939.2 615.9L940.3 610.7L936.5 608.6Z"/>
<path class="w" d="M936.5 608.6L940.3 610.7L944.2 607.2L940.5 605.1Z"/>
<path class="w" d="M940.5 605.1L944.2 607.2L947.1 608.9L943.4 606.7Z"/>
<path class="w" d="M947.1 608.9L946.1 614.1L942.1 617.6L939.2 615.9L940.3 610.7L944.2 607.2Z"/>
<ellipse class="t" cx="943.2" cy="612.4" rx="3.6" ry="2.1" transform="rotate(-60 943.2 612.4)"/>
<path class="w" d="M842.8 590.4A4 2.3 -60 0 0 838.8 597.4L854.7 606.5A4 2.3 -60 0 0 858.7 599.6Z"/>
<ellipse class="wh" cx="840.8" cy="593.9" rx="4" ry="2.3" transform="rotate(-60 840.8 593.9)"/>
<ellipse class="wh" cx="842.4" cy="594.8" rx="4" ry="2.3" transform="rotate(-60 842.4 594.8)"/>
<ellipse class="wh" cx="844" cy="595.7" rx="4" ry="2.3" transform="rotate(-60 844 595.7)"/>
<ellipse class="wh" cx="845.5" cy="596.6" rx="4" ry="2.3" transform="rotate(-60 845.5 596.6)"/>
<ellipse class="wh" cx="847.1" cy="597.5" rx="4" ry="2.3" transform="rotate(-60 847.1 597.5)"/>
<ellipse class="wh" cx="848.6" cy="598.4" rx="4" ry="2.3" transform="rotate(-60 848.6 598.4)"/>
<ellipse class="wh" cx="850.2" cy="599.3" rx="4" ry="2.3" transform="rotate(-60 850.2 599.3)"/>
<ellipse class="wh" cx="851.8" cy="600.2" rx="4" ry="2.3" transform="rotate(-60 851.8 600.2)"/>
<ellipse class="wh" cx="853.3" cy="601.1" rx="4" ry="2.3" transform="rotate(-60 853.3 601.1)"/>
<ellipse class="wh" cx="854.9" cy="602" rx="4" ry="2.3" transform="rotate(-60 854.9 602)"/>
<ellipse class="wh" cx="856.4" cy="602.9" rx="4" ry="2.3" transform="rotate(-60 856.4 602.9)"/>
<path class="w" d="M860.1 597.2A6.8 3.9 -60 0 0 853.3 608.9L854.3 609.5A6.8 3.9 -60 0 0 861.1 597.8Z"/>
<ellipse class="w" cx="857.7" cy="603.6" rx="6.8" ry="3.9" transform="rotate(-60 857.7 603.6)"/>
<path class="w" d="M861.7 600.1L860.6 605.3L856.7 608.8L853.8 607.2L854.8 602L858.8 598.5Z"/>
<path class="w" d="M861.7 600.1L865.4 602.3L864.4 607.5L860.6 605.3Z"/>
<path class="w" d="M860.6 605.3L864.4 607.5L860.4 611L856.7 608.8Z"/>
<path class="w" d="M856.7 608.8L860.4 611L857.5 609.3L853.8 607.2Z"/>
<path class="w" d="M853.8 607.2L857.5 609.3L858.6 604.1L854.8 602Z"/>
<path class="w" d="M854.8 602L858.6 604.1L862.5 600.6L858.8 598.5Z"/>
<path class="w" d="M858.8 598.5L862.5 600.6L865.4 602.3L861.7 600.1Z"/>
<path class="w" d="M865.4 602.3L864.4 607.5L860.4 611L857.5 609.3L858.6 604.1L862.5 600.6Z"/>
<ellipse class="t" cx="861.5" cy="605.8" rx="3.6" ry="2.1" transform="rotate(-60 861.5 605.8)"/>
<path class="w" d="M902.7 561.4A4.3 2.5 -60 0 0 898.4 568.8L917 579.6A4.3 2.5 -60 0 0 921.3 572.1Z"/>
<ellipse class="wh" cx="900.5" cy="565.1" rx="4.3" ry="2.5" transform="rotate(-60 900.5 565.1)"/>
<ellipse class="wh" cx="902.1" cy="566" rx="4.3" ry="2.5" transform="rotate(-60 902.1 566)"/>
<ellipse class="wh" cx="903.6" cy="566.9" rx="4.3" ry="2.5" transform="rotate(-60 903.6 566.9)"/>
<ellipse class="wh" cx="905.2" cy="567.8" rx="4.3" ry="2.5" transform="rotate(-60 905.2 567.8)"/>
<ellipse class="wh" cx="906.7" cy="568.7" rx="4.3" ry="2.5" transform="rotate(-60 906.7 568.7)"/>
<ellipse class="wh" cx="908.3" cy="569.6" rx="4.3" ry="2.5" transform="rotate(-60 908.3 569.6)"/>
<ellipse class="wh" cx="909.9" cy="570.5" rx="4.3" ry="2.5" transform="rotate(-60 909.9 570.5)"/>
<ellipse class="wh" cx="911.4" cy="571.4" rx="4.3" ry="2.5" transform="rotate(-60 911.4 571.4)"/>
<ellipse class="wh" cx="913" cy="572.3" rx="4.3" ry="2.5" transform="rotate(-60 913 572.3)"/>
<ellipse class="wh" cx="914.5" cy="573.2" rx="4.3" ry="2.5" transform="rotate(-60 914.5 573.2)"/>
<ellipse class="wh" cx="916.1" cy="574.1" rx="4.3" ry="2.5" transform="rotate(-60 916.1 574.1)"/>
<ellipse class="wh" cx="917.7" cy="575" rx="4.3" ry="2.5" transform="rotate(-60 917.7 575)"/>
<path class="w" d="M923.1 568.9A8 4.6 -60 0 0 915.1 582.8L916.2 583.4A8 4.6 -60 0 0 924.2 569.5Z"/>
<ellipse class="w" cx="920.2" cy="576.5" rx="8" ry="4.6" transform="rotate(-60 920.2 576.5)"/>
<path class="w" d="M924.7 572.4L923.5 578.4L918.9 582.4L915.6 580.5L916.8 574.5L921.4 570.5Z"/>
<path class="w" d="M924.7 572.4L929.3 575L928.1 581L923.5 578.4Z"/>
<path class="w" d="M923.5 578.4L928.1 581L923.5 585.1L918.9 582.4Z"/>
<path class="w" d="M918.9 582.4L923.5 585.1L920.2 583.2L915.6 580.5Z"/>
<path class="w" d="M915.6 580.5L920.2 583.2L921.4 577.2L916.8 574.5Z"/>
<path class="w" d="M916.8 574.5L921.4 577.2L926 573.1L921.4 570.5Z"/>
<path class="w" d="M921.4 570.5L926 573.1L929.3 575L924.7 572.4Z"/>
<path class="w" d="M929.3 575L928.1 581L923.5 585.1L920.2 583.2L921.4 577.2L926 573.1Z"/>
<ellipse class="t" cx="924.8" cy="579.1" rx="4.2" ry="2.4" transform="rotate(-60 924.8 579.1)"/>
<path class="w" d="M814.7 613.2A4.3 2.5 -60 0 0 810.4 620.6L829 631.4A4.3 2.5 -60 0 0 833.3 623.9Z"/>
<ellipse class="wh" cx="812.5" cy="616.9" rx="4.3" ry="2.5" transform="rotate(-60 812.5 616.9)"/>
<ellipse class="wh" cx="814.1" cy="617.8" rx="4.3" ry="2.5" transform="rotate(-60 814.1 617.8)"/>
<ellipse class="wh" cx="815.6" cy="618.7" rx="4.3" ry="2.5" transform="rotate(-60 815.6 618.7)"/>
<ellipse class="wh" cx="817.2" cy="619.6" rx="4.3" ry="2.5" transform="rotate(-60 817.2 619.6)"/>
<ellipse class="wh" cx="818.7" cy="620.5" rx="4.3" ry="2.5" transform="rotate(-60 818.7 620.5)"/>
<ellipse class="wh" cx="820.3" cy="621.4" rx="4.3" ry="2.5" transform="rotate(-60 820.3 621.4)"/>
<ellipse class="wh" cx="821.9" cy="622.3" rx="4.3" ry="2.5" transform="rotate(-60 821.9 622.3)"/>
<ellipse class="wh" cx="823.4" cy="623.2" rx="4.3" ry="2.5" transform="rotate(-60 823.4 623.2)"/>
<ellipse class="wh" cx="825" cy="624.1" rx="4.3" ry="2.5" transform="rotate(-60 825 624.1)"/>
<ellipse class="wh" cx="826.5" cy="625" rx="4.3" ry="2.5" transform="rotate(-60 826.5 625)"/>
<ellipse class="wh" cx="828.1" cy="625.9" rx="4.3" ry="2.5" transform="rotate(-60 828.1 625.9)"/>
<ellipse class="wh" cx="829.7" cy="626.8" rx="4.3" ry="2.5" transform="rotate(-60 829.7 626.8)"/>
<path class="w" d="M835.1 620.7A8 4.6 -60 0 0 827.1 634.6L828.2 635.2A8 4.6 -60 0 0 836.2 621.3Z"/>
<ellipse class="w" cx="832.2" cy="628.2" rx="8" ry="4.6" transform="rotate(-60 832.2 628.2)"/>
<path class="w" d="M836.7 624.2L835.5 630.2L830.9 634.2L827.6 632.3L828.8 626.3L833.4 622.3Z"/>
<path class="w" d="M836.7 624.2L841.3 626.8L840.1 632.8L835.5 630.2Z"/>
<path class="w" d="M835.5 630.2L840.1 632.8L835.5 636.9L830.9 634.2Z"/>
<path class="w" d="M830.9 634.2L835.5 636.9L832.2 635L827.6 632.3Z"/>
<path class="w" d="M827.6 632.3L832.2 635L833.4 629L828.8 626.3Z"/>
<path class="w" d="M828.8 626.3L833.4 629L838 624.9L833.4 622.3Z"/>
<path class="w" d="M833.4 622.3L838 624.9L841.3 626.8L836.7 624.2Z"/>
<path class="w" d="M841.3 626.8L840.1 632.8L835.5 636.9L832.2 635L833.4 629L838 624.9Z"/>
<ellipse class="t" cx="836.8" cy="630.9" rx="4.2" ry="2.4" transform="rotate(-60 836.8 630.9)"/>
<path class="w" d="M859.5 580.1A3.2 1.8 -60 0 0 856.3 585.6L887 603.4A3.2 1.8 -60 0 0 890.2 597.8Z"/>
<ellipse class="w" cx="888.6" cy="600.6" rx="3.2" ry="1.8" transform="rotate(-60 888.6 600.6)"/>
<ellipse class="wh" cx="858.1" cy="583" rx="3.2" ry="1.8" transform="rotate(-60 858.1 583)"/>
<ellipse class="wh" cx="859.5" cy="583.8" rx="3.2" ry="1.8" transform="rotate(-60 859.5 583.8)"/>
<ellipse class="wh" cx="860.9" cy="584.6" rx="3.2" ry="1.8" transform="rotate(-60 860.9 584.6)"/>
<ellipse class="wh" cx="862.3" cy="585.4" rx="3.2" ry="1.8" transform="rotate(-60 862.3 585.4)"/>
<ellipse class="wh" cx="863.7" cy="586.2" rx="3.2" ry="1.8" transform="rotate(-60 863.7 586.2)"/>
<ellipse class="wh" cx="865" cy="587" rx="3.2" ry="1.8" transform="rotate(-60 865 587)"/>
<ellipse class="wh" cx="866.4" cy="587.8" rx="3.2" ry="1.8" transform="rotate(-60 866.4 587.8)"/>
<ellipse class="wh" cx="867.8" cy="588.6" rx="3.2" ry="1.8" transform="rotate(-60 867.8 588.6)"/>
<ellipse class="wh" cx="869.2" cy="589.4" rx="3.2" ry="1.8" transform="rotate(-60 869.2 589.4)"/>
<ellipse class="wh" cx="870.6" cy="590.2" rx="3.2" ry="1.8" transform="rotate(-60 870.6 590.2)"/>
<ellipse class="wh" cx="872" cy="591" rx="3.2" ry="1.8" transform="rotate(-60 872 591)"/>
<ellipse class="wh" cx="873.4" cy="591.8" rx="3.2" ry="1.8" transform="rotate(-60 873.4 591.8)"/>
<ellipse class="wh" cx="874.7" cy="592.6" rx="3.2" ry="1.8" transform="rotate(-60 874.7 592.6)"/>
<ellipse class="wh" cx="876.1" cy="593.4" rx="3.2" ry="1.8" transform="rotate(-60 876.1 593.4)"/>
<ellipse class="wh" cx="877.5" cy="594.2" rx="3.2" ry="1.8" transform="rotate(-60 877.5 594.2)"/>
<ellipse class="wh" cx="878.9" cy="595" rx="3.2" ry="1.8" transform="rotate(-60 878.9 595)"/>
<ellipse class="wh" cx="880.3" cy="595.8" rx="3.2" ry="1.8" transform="rotate(-60 880.3 595.8)"/>
<ellipse class="wh" cx="881.7" cy="596.6" rx="3.2" ry="1.8" transform="rotate(-60 881.7 596.6)"/>
<ellipse class="wh" cx="883.1" cy="597.4" rx="3.2" ry="1.8" transform="rotate(-60 883.1 597.4)"/>
<ellipse class="wh" cx="884.4" cy="598.2" rx="3.2" ry="1.8" transform="rotate(-60 884.4 598.2)"/>
<ellipse class="wh" cx="885.8" cy="599" rx="3.2" ry="1.8" transform="rotate(-60 885.8 599)"/>
<ellipse class="wh" cx="887.2" cy="599.8" rx="3.2" ry="1.8" transform="rotate(-60 887.2 599.8)"/>
<ellipse class="w" cx="888.6" cy="600.6" rx="3.2" ry="1.8" transform="rotate(-60 888.6 600.6)"/>
<ellipse class="w" cx="894.9" cy="604.8" rx="6.6" ry="3.8" transform="rotate(-60 894.9 604.8)"/>
<ellipse class="w" cx="895.6" cy="605.2" rx="6.6" ry="3.8" transform="rotate(-60 895.6 605.2)"/>
<ellipse class="l" cx="895.6" cy="605.2" rx="3" ry="1.7" transform="rotate(-60 895.6 605.2)"/>
<ellipse class="t" cx="895.6" cy="605.2" rx="3.9" ry="2.3" transform="rotate(-60 895.6 605.2)"/>
<path class="w" d="M907.6 604.1A7 4 -60 0 0 900.6 616.2L901.6 616.8A7 4 -60 0 0 908.6 604.7Z"/>
<ellipse class="w" cx="905.1" cy="610.8" rx="7" ry="4" transform="rotate(-60 905.1 610.8)"/>
<path class="w" d="M909.2 607.1L908.1 612.5L904 616.1L901 614.4L902.1 609L906.2 605.4Z"/>
<path class="w" d="M909.2 607.1L913.1 609.4L912 614.7L908.1 612.5Z"/>
<path class="w" d="M908.1 612.5L912 614.7L907.9 618.4L904 616.1Z"/>
<path class="w" d="M904 616.1L907.9 618.4L904.9 616.6L901 614.4Z"/>
<path class="w" d="M901 614.4L904.9 616.6L906 611.3L902.1 609Z"/>
<path class="w" d="M902.1 609L906 611.3L910.1 607.6L906.2 605.4Z"/>
<path class="w" d="M906.2 605.4L910.1 607.6L913.1 609.4L909.2 607.1Z"/>
<path class="w" d="M913.1 609.4L912 614.7L907.9 618.4L904.9 616.6L906 611.3L910.1 607.6Z"/>
<ellipse class="l" cx="909" cy="613" rx="3.6" ry="2.1" transform="rotate(-60 909 613)"/>
<ellipse class="t" cx="909" cy="613" rx="2.3" ry="1.3" transform="rotate(-60 909 613)"/>
<path class="w" d="M202.7 468.9A3.9 2.3 -120 0 1 206.6 475.6L184.2 488.6A3.9 2.3 -120 0 1 180.3 481.8Z"/>
<ellipse class="wh" cx="204.7" cy="472.3" rx="3.9" ry="2.3" transform="rotate(-120 204.7 472.3)"/>
<ellipse class="wh" cx="203.1" cy="473.2" rx="3.9" ry="2.3" transform="rotate(-120 203.1 473.2)"/>
<ellipse class="wh" cx="201.5" cy="474.1" rx="3.9" ry="2.3" transform="rotate(-120 201.5 474.1)"/>
<ellipse class="wh" cx="200" cy="475" rx="3.9" ry="2.3" transform="rotate(-120 200 475)"/>
<ellipse class="wh" cx="198.4" cy="475.9" rx="3.9" ry="2.3" transform="rotate(-120 198.4 475.9)"/>
<ellipse class="wh" cx="196.9" cy="476.8" rx="3.9" ry="2.3" transform="rotate(-120 196.9 476.8)"/>
<ellipse class="wh" cx="195.3" cy="477.7" rx="3.9" ry="2.3" transform="rotate(-120 195.3 477.7)"/>
<ellipse class="wh" cx="193.7" cy="478.6" rx="3.9" ry="2.3" transform="rotate(-120 193.7 478.6)"/>
<ellipse class="wh" cx="192.2" cy="479.5" rx="3.9" ry="2.3" transform="rotate(-120 192.2 479.5)"/>
<ellipse class="wh" cx="190.6" cy="480.4" rx="3.9" ry="2.3" transform="rotate(-120 190.6 480.4)"/>
<ellipse class="wh" cx="189.1" cy="481.3" rx="3.9" ry="2.3" transform="rotate(-120 189.1 481.3)"/>
<ellipse class="wh" cx="187.5" cy="482.2" rx="3.9" ry="2.3" transform="rotate(-120 187.5 482.2)"/>
<ellipse class="wh" cx="185.9" cy="483.1" rx="3.9" ry="2.3" transform="rotate(-120 185.9 483.1)"/>
<path class="w" d="M178.8 479.3A6.8 3.9 -120 0 1 185.6 491.1L184.6 491.7A6.8 3.9 -120 0 1 177.8 479.9Z"/>
<ellipse class="w" cx="181.2" cy="485.8" rx="6.8" ry="3.9" transform="rotate(-120 181.2 485.8)"/>
<path class="w" d="M180.1 480.6L184.1 484.1L185.1 489.3L182.2 491L178.3 487.5L177.2 482.3Z"/>
<path class="w" d="M180.1 480.6L176.4 482.8L180.4 486.3L184.1 484.1Z"/>
<path class="w" d="M184.1 484.1L180.4 486.3L181.4 491.5L185.1 489.3Z"/>
<path class="w" d="M185.1 489.3L181.4 491.5L178.5 493.1L182.2 491Z"/>
<path class="w" d="M182.2 491L178.5 493.1L174.6 489.6L178.3 487.5Z"/>
<path class="w" d="M178.3 487.5L174.6 489.6L173.5 484.4L177.2 482.3Z"/>
<path class="w" d="M177.2 482.3L173.5 484.4L176.4 482.8L180.1 480.6Z"/>
<path class="w" d="M176.4 482.8L180.4 486.3L181.4 491.5L178.5 493.1L174.6 489.6L173.5 484.4Z"/>
<ellipse class="t" cx="177.5" cy="488" rx="3.6" ry="2.1" transform="rotate(-120 177.5 488)"/>
<path class="w" d="M179.6 506.9A3.9 2.3 -120 0 1 183.5 513.6L161.1 526.6A3.9 2.3 -120 0 1 157.2 519.8Z"/>
<ellipse class="wh" cx="181.6" cy="510.3" rx="3.9" ry="2.3" transform="rotate(-120 181.6 510.3)"/>
<ellipse class="wh" cx="180" cy="511.2" rx="3.9" ry="2.3" transform="rotate(-120 180 511.2)"/>
<ellipse class="wh" cx="178.4" cy="512.1" rx="3.9" ry="2.3" transform="rotate(-120 178.4 512.1)"/>
<ellipse class="wh" cx="176.9" cy="513" rx="3.9" ry="2.3" transform="rotate(-120 176.9 513)"/>
<ellipse class="wh" cx="175.3" cy="513.9" rx="3.9" ry="2.3" transform="rotate(-120 175.3 513.9)"/>
<ellipse class="wh" cx="173.8" cy="514.8" rx="3.9" ry="2.3" transform="rotate(-120 173.8 514.8)"/>
<ellipse class="wh" cx="172.2" cy="515.7" rx="3.9" ry="2.3" transform="rotate(-120 172.2 515.7)"/>
<ellipse class="wh" cx="170.6" cy="516.6" rx="3.9" ry="2.3" transform="rotate(-120 170.6 516.6)"/>
<ellipse class="wh" cx="169.1" cy="517.5" rx="3.9" ry="2.3" transform="rotate(-120 169.1 517.5)"/>
<ellipse class="wh" cx="167.5" cy="518.4" rx="3.9" ry="2.3" transform="rotate(-120 167.5 518.4)"/>
<ellipse class="wh" cx="166" cy="519.2" rx="3.9" ry="2.3" transform="rotate(-120 166 519.2)"/>
<ellipse class="wh" cx="164.4" cy="520.2" rx="3.9" ry="2.3" transform="rotate(-120 164.4 520.2)"/>
<ellipse class="wh" cx="162.8" cy="521.1" rx="3.9" ry="2.3" transform="rotate(-120 162.8 521.1)"/>
<path class="w" d="M155.7 517.3A6.8 3.9 -120 0 1 162.5 529.1L161.5 529.7A6.8 3.9 -120 0 1 154.7 517.9Z"/>
<ellipse class="w" cx="158.1" cy="523.8" rx="6.8" ry="3.9" transform="rotate(-120 158.1 523.8)"/>
<path class="w" d="M157 518.6L161 522.1L162 527.3L159.1 529L155.2 525.5L154.1 520.3Z"/>
<path class="w" d="M157 518.6L153.3 520.8L157.3 524.3L161 522.1Z"/>
<path class="w" d="M161 522.1L157.3 524.3L158.3 529.5L162 527.3Z"/>
<path class="w" d="M162 527.3L158.3 529.5L155.4 531.1L159.1 529Z"/>
<path class="w" d="M159.1 529L155.4 531.1L151.5 527.6L155.2 525.5Z"/>
<path class="w" d="M155.2 525.5L151.5 527.6L150.4 522.4L154.1 520.3Z"/>
<path class="w" d="M154.1 520.3L150.4 522.4L153.3 520.8L157 518.6Z"/>
<path class="w" d="M153.3 520.8L157.3 524.3L158.3 529.5L155.4 531.1L151.5 527.6L150.4 522.4Z"/>
<ellipse class="t" cx="154.4" cy="526" rx="3.6" ry="2.1" transform="rotate(-120 154.4 526)"/>
<path class="w" d="M271.4 552.3A3.9 2.3 -120 0 1 275.3 559L252.9 572A3.9 2.3 -120 0 1 249 565.2Z"/>
<ellipse class="wh" cx="273.4" cy="555.6" rx="3.9" ry="2.3" transform="rotate(-120 273.4 555.6)"/>
<ellipse class="wh" cx="271.8" cy="556.6" rx="3.9" ry="2.3" transform="rotate(-120 271.8 556.6)"/>
<ellipse class="wh" cx="270.2" cy="557.5" rx="3.9" ry="2.3" transform="rotate(-120 270.2 557.5)"/>
<ellipse class="wh" cx="268.7" cy="558.4" rx="3.9" ry="2.3" transform="rotate(-120 268.7 558.4)"/>
<ellipse class="wh" cx="267.1" cy="559.2" rx="3.9" ry="2.3" transform="rotate(-120 267.1 559.2)"/>
<ellipse class="wh" cx="265.6" cy="560.1" rx="3.9" ry="2.3" transform="rotate(-120 265.6 560.1)"/>
<ellipse class="wh" cx="264" cy="561.1" rx="3.9" ry="2.3" transform="rotate(-120 264 561.1)"/>
<ellipse class="wh" cx="262.4" cy="562" rx="3.9" ry="2.3" transform="rotate(-120 262.4 562)"/>
<ellipse class="wh" cx="260.9" cy="562.9" rx="3.9" ry="2.3" transform="rotate(-120 260.9 562.9)"/>
<ellipse class="wh" cx="259.3" cy="563.8" rx="3.9" ry="2.3" transform="rotate(-120 259.3 563.8)"/>
<ellipse class="wh" cx="257.8" cy="564.6" rx="3.9" ry="2.3" transform="rotate(-120 257.8 564.6)"/>
<ellipse class="wh" cx="256.2" cy="565.6" rx="3.9" ry="2.3" transform="rotate(-120 256.2 565.6)"/>
<ellipse class="wh" cx="254.6" cy="566.5" rx="3.9" ry="2.3" transform="rotate(-120 254.6 566.5)"/>
<path class="w" d="M247.5 562.7A6.8 3.9 -120 0 1 254.3 574.5L253.3 575.1A6.8 3.9 -120 0 1 246.5 563.3Z"/>
<ellipse class="w" cx="249.9" cy="569.2" rx="6.8" ry="3.9" transform="rotate(-120 249.9 569.2)"/>
<path class="w" d="M248.8 564L252.8 567.5L253.8 572.7L250.9 574.4L247 570.9L245.9 565.7Z"/>
<path class="w" d="M248.8 564L245.1 566.2L249.1 569.7L252.8 567.5Z"/>
<path class="w" d="M252.8 567.5L249.1 569.7L250.1 574.9L253.8 572.7Z"/>
<path class="w" d="M253.8 572.7L250.1 574.9L247.2 576.5L250.9 574.4Z"/>
<path class="w" d="M250.9 574.4L247.2 576.5L243.3 573L247 570.9Z"/>
<path class="w" d="M247 570.9L243.3 573L242.2 567.8L245.9 565.7Z"/>
<path class="w" d="M245.9 565.7L242.2 567.8L245.1 566.2L248.8 564Z"/>
<path class="w" d="M245.1 566.2L249.1 569.7L250.1 574.9L247.2 576.5L243.3 573L242.2 567.8Z"/>
<ellipse class="t" cx="246.2" cy="571.4" rx="3.6" ry="2.1" transform="rotate(-120 246.2 571.4)"/>
<path class="w" d="M328.6 545.6A3.9 2.3 -120 0 1 332.5 552.3L310.1 565.3A3.9 2.3 -120 0 1 306.2 558.5Z"/>
<ellipse class="wh" cx="330.6" cy="548.9" rx="3.9" ry="2.3" transform="rotate(-120 330.6 548.9)"/>
<ellipse class="wh" cx="329" cy="549.9" rx="3.9" ry="2.3" transform="rotate(-120 329 549.9)"/>
<ellipse class="wh" cx="327.4" cy="550.8" rx="3.9" ry="2.3" transform="rotate(-120 327.4 550.8)"/>
<ellipse class="wh" cx="325.9" cy="551.6" rx="3.9" ry="2.3" transform="rotate(-120 325.9 551.6)"/>
<ellipse class="wh" cx="324.3" cy="552.5" rx="3.9" ry="2.3" transform="rotate(-120 324.3 552.5)"/>
<ellipse class="wh" cx="322.8" cy="553.4" rx="3.9" ry="2.3" transform="rotate(-120 322.8 553.4)"/>
<ellipse class="wh" cx="321.2" cy="554.4" rx="3.9" ry="2.3" transform="rotate(-120 321.2 554.4)"/>
<ellipse class="wh" cx="319.6" cy="555.2" rx="3.9" ry="2.3" transform="rotate(-120 319.6 555.2)"/>
<ellipse class="wh" cx="318.1" cy="556.1" rx="3.9" ry="2.3" transform="rotate(-120 318.1 556.1)"/>
<ellipse class="wh" cx="316.5" cy="557" rx="3.9" ry="2.3" transform="rotate(-120 316.5 557)"/>
<ellipse class="wh" cx="315" cy="557.9" rx="3.9" ry="2.3" transform="rotate(-120 315 557.9)"/>
<ellipse class="wh" cx="313.4" cy="558.9" rx="3.9" ry="2.3" transform="rotate(-120 313.4 558.9)"/>
<ellipse class="wh" cx="311.8" cy="559.8" rx="3.9" ry="2.3" transform="rotate(-120 311.8 559.8)"/>
<path class="w" d="M304.7 556A6.8 3.9 -120 0 1 311.5 567.8L310.5 568.4A6.8 3.9 -120 0 1 303.7 556.6Z"/>
<ellipse class="w" cx="307.1" cy="562.5" rx="6.8" ry="3.9" transform="rotate(-120 307.1 562.5)"/>
<path class="w" d="M306 557.3L310 560.8L311 566L308.1 567.7L304.2 564.2L303.1 559Z"/>
<path class="w" d="M306 557.3L302.3 559.5L306.3 563L310 560.8Z"/>
<path class="w" d="M310 560.8L306.3 563L307.3 568.2L311 566Z"/>
<path class="w" d="M311 566L307.3 568.2L304.4 569.8L308.1 567.7Z"/>
<path class="w" d="M308.1 567.7L304.4 569.8L300.5 566.3L304.2 564.2Z"/>
<path class="w" d="M304.2 564.2L300.5 566.3L299.4 561.1L303.1 559Z"/>
<path class="w" d="M303.1 559L299.4 561.1L302.3 559.5L306 557.3Z"/>
<path class="w" d="M302.3 559.5L306.3 563L307.3 568.2L304.4 569.8L300.5 566.3L299.4 561.1Z"/>
<ellipse class="t" cx="303.4" cy="564.6" rx="3.6" ry="2.1" transform="rotate(-120 303.4 564.6)"/>
</g>
<g id="p_90_seal">
<path class="w" d="M249.3 116.7A42.2 24.4 -60 0 0 207.1 189.8L212.9 193.1A42.2 24.4 -60 0 0 255.1 120Z"/>
<ellipse class="l" cx="234" cy="156.6" rx="42.2" ry="24.4" transform="rotate(-60 234 156.6)"/>
<path class="t" d="M221.8 190.8A41.3 23.8 -60 1 1 257.5 128.9"/>
<ellipse class="l" cx="233.7" cy="156.4" rx="38.2" ry="22.1" transform="rotate(-60 233.7 156.4)"/>
<ellipse class="h" cx="233" cy="156" rx="34.6" ry="20" transform="rotate(-60 233 156)"/>
<ellipse class="l" cx="231.7" cy="155.3" rx="31.8" ry="18.4" transform="rotate(-60 231.7 155.3)"/>
<path class="t" d="M248.2 131.2A31 17.9 -60 0 1 217.4 181.6"/>
<path class="t" d="M249.5 132.3A30.6 17.7 -60 0 1 219 182.1"/>
<path class="t" d="M250.6 133.4A30.2 17.4 -60 0 1 220.6 182.5"/>
<path class="t" d="M251.7 134.5A29.8 17.2 -60 0 1 222.1 182.9"/>
<path class="w" d="M1010.5 556.1A42.2 24.4 -60 0 0 968.3 629.2L974.1 632.5A42.2 24.4 -60 0 0 1016.3 559.4Z"/>
<ellipse class="l" cx="995.2" cy="596" rx="42.2" ry="24.4" transform="rotate(-60 995.2 596)"/>
<path class="t" d="M983 630.2A41.3 23.8 -60 1 1 1018.7 568.3"/>
<ellipse class="l" cx="994.9" cy="595.8" rx="38.2" ry="22.1" transform="rotate(-60 994.9 595.8)"/>
<ellipse class="h" cx="994.2" cy="595.4" rx="34.6" ry="20" transform="rotate(-60 994.2 595.4)"/>
<ellipse class="l" cx="992.9" cy="594.7" rx="31.8" ry="18.4" transform="rotate(-60 992.9 594.7)"/>
<path class="t" d="M1009.4 570.6A31 17.9 -60 0 1 978.6 621"/>
<path class="t" d="M1010.7 571.7A30.6 17.7 -60 0 1 980.2 621.5"/>
<path class="t" d="M1011.8 572.8A30.2 17.4 -60 0 1 981.8 621.9"/>
<path class="t" d="M1012.9 573.9A29.8 17.2 -60 0 1 983.3 622.3"/>
</g>
<g id="p_95_overlay">
<path class="c" d="M221 149.2L262 172.8"/>
<path class="c" d="M341 218.4L421.4 264.9"/>
<path class="c" d="M441.6 276.5L512.6 317.5"/>
<path class="c" d="M586 359.9L676.8 412.3"/>
<path class="c" d="M697.9 424.5L794 480"/>
<path class="c" d="M830 500.8L968 580.4"/>
<path class="c" d="M981 587.9L992 594.3"/>
<path class="c" d="M89 619.1L110.3 606.8"/>
<path class="c" d="M133 593.7L153 582.2"/>
<path class="c" d="M196 557.3L212 548.1"/>
<path class="c" d="M246 528.5L290 503.1"/>
<path class="c" d="M331 479.4L353 466.7"/>
<path class="c" d="M383 449.4L412 432.6"/>
<path class="c" d="M139.3 339.6L217 294.8"/>
<path class="c" d="M246 278L289 253.2"/>
<path class="c" d="M921.5 523.8L830 469.5"/>
<path class="c" d="M897.3 566L802 510.5"/>
<path class="ld" d="M278.2 94.5L288.2 113.8"/>
<path class="ld" d="M305.2 96.2L318.2 122"/>
<path class="ld" d="M354.5 100L333.2 137.5"/>
<path class="ld" d="M412 110.8L394.5 131.2"/>
<path class="ld" d="M175 166.2L200 179.5"/>
<path class="ld" d="M147.5 243.8L160 268.8"/>
<path class="ld" d="M198.8 240L222.5 278.8"/>
<path class="ld" d="M477 219.5L457 253.8"/>
<path class="ld" d="M520.8 240L503.2 276.2"/>
<path class="ld" d="M330.8 340.8L362 330"/>
<path class="ld" d="M338.2 363.8L363.2 353.8"/>
<path class="ld" d="M658.2 241.2L643.2 266.8"/>
<path class="ld" d="M697 326.2L674 362"/>
<path class="ld" d="M752.8 342.5L733.2 377.5"/>
<path class="ld" d="M834 372L821 411"/>
<path class="ld" d="M881.5 390L867.2 425"/>
<path class="ld" d="M727.8 167L714 189"/>
<path class="ld" d="M983 465.5L957.2 460"/>
<path class="ld" d="M983 465.5L959.8 483"/>
<path class="ld" d="M976 543.8L973.5 527.5"/>
<path class="ld" d="M976 543.8L948.5 536.2"/>
<path class="ld" d="M1009.8 535L1006.5 555"/>
<path class="ld" d="M946.1 591.2L927.5 582.9"/>
<path class="ld" d="M947 630.8L942.6 617.5"/>
<path class="ld" d="M903.5 642.4L908.3 620.2"/>
<path class="ld" d="M887.5 633.5L893.7 611.3"/>
<path class="ld" d="M872.4 622L878 600.6"/>
<path class="ld" d="M848.4 626.4L852.9 610.4"/>
<path class="ld" d="M820 655.7L828 637"/>
<path class="ld" d="M439.5 490L419.5 465"/>
<path class="ld" d="M403.2 517L375.8 480"/>
<path class="ld" d="M362 538L338.2 517"/>
<path class="ld" d="M231.2 445.5L246.2 468.8"/>
<path class="ld" d="M134.6 487.4L173.7 488.3"/>
<path class="ld" d="M134.6 487.4L153.3 518.2"/>
<path class="ld" d="M297.8 602.5L255 575.5"/>
<path class="ld" d="M297.8 602.5L305.5 566"/>
<path class="ld" d="M237.5 620L220 577.5"/>
<path class="ld" d="M191.2 643.8L180 612.5"/>
<path class="ld" d="M86.5 567L105 592.5"/>
<path class="ld" d="M72.5 588.8L87.5 605"/>
<path class="w" d="M53.6 712.9 L73.4 687.8 L77.6 690.6 L78.8 691.6 L101.9 678.7 L106.1 682.4 L108.5 697.3 L80.5 711.3 L81.3 718.3 L59.0 715.8Z"/>
<path class="l" d="M59.0 715.8 L77.6 690.6 M78.8 691.6 L78.8 694.8 L106.1 682.4 M78.8 694.8 L80.5 711.3 M53.6 712.9 L59.0 715.8"/>
<g><text class="fw" transform="matrix(0.666 -0.322 0.12 1 77.3 711.3)">FWD</text></g>
</g>
<g>
<text class="n" text-anchor="start" transform="translate(263.2 91.7) scale(0.65 1)">17</text>
<text class="n" text-anchor="start" transform="translate(289.9 94.2) scale(0.65 1)">16</text>
<text class="n" text-anchor="start" transform="translate(350.7 97.2) scale(0.65 1)">15</text>
<text class="n" text-anchor="start" transform="translate(409.2 110.5) scale(0.65 1)">14</text>
<text class="n" text-anchor="start" transform="translate(154.7 168.4) scale(0.65 1)">20</text>
<text class="n" text-anchor="start" transform="translate(131.2 243.4) scale(0.65 1)">19</text>
<text class="n" text-anchor="start" transform="translate(181.7 238.4) scale(0.65 1)">18</text>
<text class="n" text-anchor="start" transform="translate(471.2 217.9) scale(0.65 1)">13</text>
<text class="n" text-anchor="start" transform="translate(515.7 238.4) scale(0.65 1)">12</text>
<text class="n" text-anchor="start" transform="translate(307.4 354.7) scale(0.65 1)">15</text>
<text class="n" text-anchor="start" transform="translate(318.7 379.7) scale(0.65 1)">16</text>
<text class="n" text-anchor="start" transform="translate(653.2 238.2) scale(0.65 1)">11</text>
<text class="n" text-anchor="start" transform="translate(692 322.7) scale(0.65 1)">10</text>
<text class="n" text-anchor="start" transform="translate(752.1 340.4) scale(0.65 1)">9</text>
<text class="n" text-anchor="start" transform="translate(831.6 369.7) scale(0.65 1)">8</text>
<text class="n" text-anchor="start" transform="translate(878.1 388.4) scale(0.65 1)">7</text>
<text class="n" text-anchor="start" transform="translate(726.1 171.7) scale(0.65 1)">1</text>
<text class="n" text-anchor="start" transform="translate(988.6 473.4) scale(0.65 1)">2</text>
<text class="n" text-anchor="start" transform="translate(977.4 561) scale(0.65 1)">2</text>
<text class="n" text-anchor="start" transform="translate(1002.2 529) scale(0.65 1)">20</text>
<text class="n" text-anchor="start" transform="translate(946.9 601.5) scale(0.65 1)">3</text>
<text class="n" text-anchor="start" transform="translate(944.4 651) scale(0.65 1)">2</text>
<text class="n" text-anchor="start" transform="translate(896.1 660.5) scale(0.65 1)">4</text>
<text class="n" text-anchor="start" transform="translate(878.6 653) scale(0.65 1)">5</text>
<text class="n" text-anchor="start" transform="translate(864.1 642.7) scale(0.65 1)">6</text>
<text class="n" text-anchor="start" transform="translate(842.9 646) scale(0.65 1)">2</text>
<text class="n" text-anchor="start" transform="translate(812.1 676.7) scale(0.65 1)">3</text>
<text class="n" text-anchor="start" transform="translate(442.4 513.2) scale(0.65 1)">21</text>
<text class="n" text-anchor="start" transform="translate(403.2 538.5) scale(0.65 1)">22</text>
<text class="n" text-anchor="start" transform="translate(364.2 559.2) scale(0.65 1)">23</text>
<text class="n" text-anchor="start" transform="translate(212.9 444.7) scale(0.65 1)">24</text>
<text class="n" text-anchor="start" transform="translate(111 488.4) scale(0.65 1)">25</text>
<text class="n" text-anchor="start" transform="translate(293.2 625.2) scale(0.65 1)">25</text>
<text class="n" text-anchor="start" transform="translate(231.2 641.7) scale(0.65 1)">26</text>
<text class="n" text-anchor="start" transform="translate(186.2 664.7) scale(0.65 1)">27</text>
<text class="n" text-anchor="start" transform="translate(71.7 567.7) scale(0.65 1)">28</text>
<text class="n" text-anchor="start" transform="translate(54.2 597.2) scale(0.65 1)">29</text>
</g>
</svg>
</body>
</html>
